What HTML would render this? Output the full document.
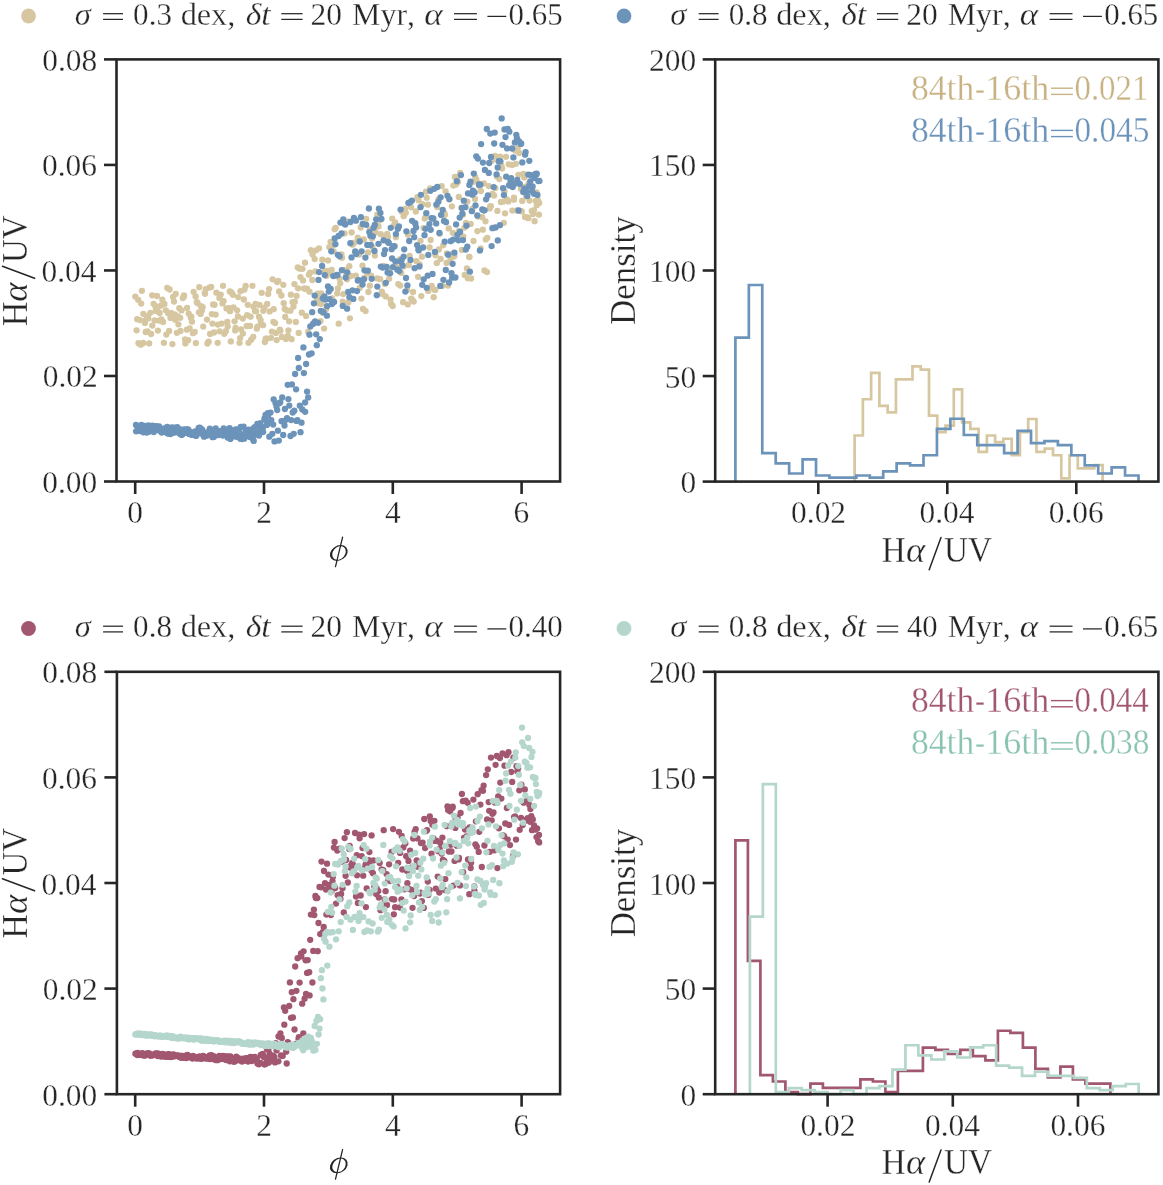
<!DOCTYPE html><html><head><meta charset="utf-8"><style>html,body{margin:0;padding:0;background:#fff;overflow:hidden}svg{display:block;will-change:transform}text{font-family:"Liberation Serif",serif;stroke:#fff;stroke-width:0.3px}</style></head><body>
<svg width="1163" height="1185" viewBox="0 0 1163 1185">
<rect width="1163" height="1185" fill="#fff"/>
<g fill="#d6c7a1"><circle cx="135.3" cy="296.6" r="3.15"/><circle cx="136.6" cy="330.3" r="3.15"/><circle cx="137.2" cy="319.2" r="3.15"/><circle cx="138.2" cy="299.8" r="3.15"/><circle cx="138.5" cy="343.2" r="3.15"/><circle cx="139.9" cy="320.1" r="3.15"/><circle cx="140.7" cy="344.7" r="3.15"/><circle cx="141.2" cy="303.6" r="3.15"/><circle cx="141.9" cy="290.8" r="3.15"/><circle cx="143.2" cy="343.0" r="3.15"/><circle cx="143.3" cy="313.8" r="3.15"/><circle cx="144.9" cy="322.9" r="3.15"/><circle cx="145.1" cy="320.6" r="3.15"/><circle cx="145.7" cy="332.0" r="3.15"/><circle cx="146.9" cy="316.3" r="3.15"/><circle cx="147.5" cy="331.5" r="3.15"/><circle cx="148.3" cy="318.4" r="3.15"/><circle cx="149.2" cy="343.4" r="3.15"/><circle cx="150.4" cy="312.8" r="3.15"/><circle cx="151.1" cy="334.0" r="3.15"/><circle cx="152.2" cy="295.3" r="3.15"/><circle cx="152.3" cy="325.6" r="3.15"/><circle cx="153.6" cy="303.8" r="3.15"/><circle cx="154.6" cy="320.4" r="3.15"/><circle cx="155.3" cy="306.1" r="3.15"/><circle cx="155.7" cy="310.9" r="3.15"/><circle cx="157.0" cy="296.0" r="3.15"/><circle cx="157.5" cy="310.7" r="3.15"/><circle cx="157.9" cy="330.6" r="3.15"/><circle cx="159.3" cy="320.7" r="3.15"/><circle cx="159.6" cy="313.0" r="3.15"/><circle cx="160.9" cy="305.7" r="3.15"/><circle cx="161.4" cy="319.3" r="3.15"/><circle cx="162.3" cy="299.7" r="3.15"/><circle cx="163.1" cy="321.9" r="3.15"/><circle cx="163.9" cy="342.8" r="3.15"/><circle cx="164.4" cy="304.0" r="3.15"/><circle cx="165.9" cy="310.3" r="3.15"/><circle cx="166.3" cy="334.6" r="3.15"/><circle cx="167.2" cy="287.8" r="3.15"/><circle cx="168.2" cy="313.3" r="3.15"/><circle cx="169.1" cy="331.0" r="3.15"/><circle cx="169.6" cy="289.5" r="3.15"/><circle cx="170.5" cy="317.9" r="3.15"/><circle cx="171.0" cy="312.8" r="3.15"/><circle cx="172.4" cy="344.1" r="3.15"/><circle cx="173.1" cy="297.0" r="3.15"/><circle cx="174.0" cy="301.6" r="3.15"/><circle cx="174.7" cy="314.4" r="3.15"/><circle cx="175.3" cy="319.7" r="3.15"/><circle cx="175.7" cy="294.0" r="3.15"/><circle cx="176.9" cy="332.8" r="3.15"/><circle cx="177.7" cy="316.3" r="3.15"/><circle cx="178.4" cy="324.3" r="3.15"/><circle cx="179.3" cy="308.2" r="3.15"/><circle cx="180.2" cy="317.8" r="3.15"/><circle cx="180.5" cy="331.0" r="3.15"/><circle cx="181.5" cy="310.4" r="3.15"/><circle cx="182.8" cy="298.0" r="3.15"/><circle cx="183.6" cy="296.9" r="3.15"/><circle cx="184.0" cy="295.4" r="3.15"/><circle cx="185.1" cy="339.4" r="3.15"/><circle cx="185.4" cy="343.4" r="3.15"/><circle cx="186.8" cy="329.7" r="3.15"/><circle cx="187.1" cy="307.9" r="3.15"/><circle cx="188.1" cy="340.2" r="3.15"/><circle cx="188.7" cy="313.6" r="3.15"/><circle cx="189.6" cy="328.3" r="3.15"/><circle cx="190.8" cy="317.7" r="3.15"/><circle cx="191.3" cy="316.6" r="3.15"/><circle cx="191.9" cy="321.7" r="3.15"/><circle cx="193.0" cy="333.2" r="3.15"/><circle cx="193.6" cy="291.8" r="3.15"/><circle cx="194.7" cy="331.9" r="3.15"/><circle cx="195.6" cy="296.5" r="3.15"/><circle cx="195.9" cy="343.1" r="3.15"/><circle cx="196.8" cy="302.2" r="3.15"/><circle cx="197.6" cy="303.0" r="3.15"/><circle cx="198.9" cy="312.3" r="3.15"/><circle cx="199.3" cy="287.2" r="3.15"/><circle cx="200.6" cy="313.9" r="3.15"/><circle cx="200.9" cy="306.2" r="3.15"/><circle cx="201.9" cy="310.4" r="3.15"/><circle cx="202.6" cy="307.2" r="3.15"/><circle cx="203.2" cy="326.6" r="3.15"/><circle cx="204.8" cy="292.9" r="3.15"/><circle cx="205.0" cy="293.8" r="3.15"/><circle cx="205.9" cy="289.1" r="3.15"/><circle cx="207.0" cy="319.6" r="3.15"/><circle cx="207.4" cy="343.5" r="3.15"/><circle cx="208.7" cy="341.7" r="3.15"/><circle cx="209.5" cy="287.6" r="3.15"/><circle cx="210.1" cy="333.9" r="3.15"/><circle cx="211.2" cy="286.9" r="3.15"/><circle cx="211.8" cy="314.1" r="3.15"/><circle cx="212.4" cy="323.6" r="3.15"/><circle cx="213.1" cy="304.4" r="3.15"/><circle cx="214.0" cy="332.5" r="3.15"/><circle cx="214.6" cy="304.8" r="3.15"/><circle cx="215.6" cy="314.6" r="3.15"/><circle cx="216.4" cy="292.7" r="3.15"/><circle cx="217.7" cy="342.8" r="3.15"/><circle cx="217.9" cy="324.6" r="3.15"/><circle cx="219.4" cy="297.9" r="3.15"/><circle cx="219.6" cy="331.3" r="3.15"/><circle cx="220.7" cy="294.6" r="3.15"/><circle cx="221.7" cy="323.6" r="3.15"/><circle cx="222.5" cy="303.4" r="3.15"/><circle cx="223.0" cy="285.8" r="3.15"/><circle cx="223.6" cy="301.1" r="3.15"/><circle cx="224.3" cy="333.8" r="3.15"/><circle cx="225.8" cy="331.2" r="3.15"/><circle cx="226.5" cy="308.4" r="3.15"/><circle cx="227.3" cy="322.0" r="3.15"/><circle cx="227.7" cy="326.6" r="3.15"/><circle cx="229.0" cy="308.1" r="3.15"/><circle cx="229.8" cy="291.4" r="3.15"/><circle cx="230.0" cy="311.2" r="3.15"/><circle cx="230.8" cy="341.4" r="3.15"/><circle cx="231.6" cy="292.6" r="3.15"/><circle cx="232.9" cy="294.8" r="3.15"/><circle cx="233.4" cy="307.3" r="3.15"/><circle cx="234.6" cy="321.3" r="3.15"/><circle cx="235.2" cy="330.4" r="3.15"/><circle cx="235.6" cy="327.9" r="3.15"/><circle cx="237.1" cy="310.3" r="3.15"/><circle cx="237.9" cy="316.5" r="3.15"/><circle cx="238.2" cy="297.1" r="3.15"/><circle cx="239.5" cy="342.8" r="3.15"/><circle cx="240.1" cy="338.1" r="3.15"/><circle cx="240.5" cy="291.2" r="3.15"/><circle cx="241.2" cy="329.4" r="3.15"/><circle cx="242.8" cy="318.6" r="3.15"/><circle cx="242.9" cy="333.6" r="3.15"/><circle cx="243.8" cy="299.5" r="3.15"/><circle cx="244.5" cy="289.6" r="3.15"/><circle cx="245.6" cy="286.0" r="3.15"/><circle cx="246.8" cy="326.0" r="3.15"/><circle cx="247.1" cy="315.2" r="3.15"/><circle cx="247.8" cy="304.8" r="3.15"/><circle cx="248.5" cy="342.8" r="3.15"/><circle cx="250.1" cy="325.9" r="3.15"/><circle cx="250.6" cy="316.7" r="3.15"/><circle cx="251.2" cy="339.7" r="3.15"/><circle cx="252.5" cy="285.8" r="3.15"/><circle cx="253.3" cy="336.8" r="3.15"/><circle cx="253.5" cy="306.7" r="3.15"/><circle cx="255.0" cy="311.1" r="3.15"/><circle cx="255.5" cy="304.0" r="3.15"/><circle cx="256.0" cy="311.2" r="3.15"/><circle cx="256.8" cy="328.7" r="3.15"/><circle cx="257.5" cy="326.6" r="3.15"/><circle cx="259.0" cy="316.7" r="3.15"/><circle cx="259.5" cy="305.0" r="3.15"/><circle cx="260.6" cy="320.1" r="3.15"/><circle cx="260.9" cy="323.8" r="3.15"/><circle cx="261.7" cy="292.8" r="3.15"/><circle cx="263.0" cy="325.2" r="3.15"/><circle cx="263.3" cy="310.8" r="3.15"/><circle cx="264.3" cy="307.6" r="3.15"/><circle cx="264.9" cy="342.0" r="3.15"/><circle cx="265.7" cy="338.7" r="3.15"/><circle cx="266.7" cy="338.7" r="3.15"/><circle cx="267.2" cy="304.0" r="3.15"/><circle cx="268.2" cy="293.9" r="3.15"/><circle cx="269.1" cy="289.1" r="3.15"/><circle cx="269.7" cy="311.4" r="3.15"/><circle cx="271.0" cy="337.8" r="3.15"/><circle cx="271.9" cy="331.6" r="3.15"/><circle cx="272.6" cy="279.3" r="3.15"/><circle cx="273.4" cy="321.8" r="3.15"/><circle cx="273.7" cy="309.2" r="3.15"/><circle cx="275.1" cy="323.1" r="3.15"/><circle cx="275.9" cy="332.9" r="3.15"/><circle cx="276.7" cy="340.1" r="3.15"/><circle cx="277.1" cy="282.0" r="3.15"/><circle cx="278.3" cy="281.0" r="3.15"/><circle cx="279.1" cy="291.4" r="3.15"/><circle cx="279.8" cy="329.6" r="3.15"/><circle cx="280.4" cy="330.8" r="3.15"/><circle cx="281.4" cy="295.5" r="3.15"/><circle cx="281.9" cy="336.9" r="3.15"/><circle cx="283.3" cy="284.8" r="3.15"/><circle cx="283.7" cy="303.2" r="3.15"/><circle cx="284.8" cy="308.9" r="3.15"/><circle cx="285.2" cy="316.9" r="3.15"/><circle cx="285.9" cy="339.0" r="3.15"/><circle cx="287.1" cy="310.6" r="3.15"/><circle cx="287.8" cy="335.9" r="3.15"/><circle cx="288.4" cy="330.3" r="3.15"/><circle cx="289.1" cy="321.3" r="3.15"/><circle cx="290.4" cy="310.7" r="3.15"/><circle cx="290.9" cy="294.7" r="3.15"/><circle cx="291.6" cy="339.2" r="3.15"/><circle cx="292.6" cy="302.2" r="3.15"/><circle cx="293.5" cy="306.6" r="3.15"/><circle cx="294.4" cy="284.1" r="3.15"/><circle cx="294.8" cy="301.7" r="3.15"/><circle cx="295.8" cy="321.9" r="3.15"/><circle cx="296.6" cy="295.9" r="3.15"/><circle cx="297.8" cy="267.4" r="3.15"/><circle cx="298.1" cy="288.3" r="3.15"/><circle cx="298.7" cy="332.9" r="3.15"/><circle cx="299.9" cy="268.7" r="3.15"/><circle cx="300.4" cy="277.1" r="3.15"/><circle cx="301.8" cy="312.7" r="3.15"/><circle cx="302.5" cy="268.8" r="3.15"/><circle cx="303.0" cy="280.4" r="3.15"/><circle cx="304.1" cy="288.4" r="3.15"/><circle cx="305.0" cy="262.7" r="3.15"/><circle cx="305.9" cy="289.1" r="3.15"/><circle cx="306.1" cy="315.9" r="3.15"/><circle cx="306.9" cy="288.6" r="3.15"/><circle cx="308.2" cy="332.0" r="3.15"/><circle cx="308.9" cy="274.7" r="3.15"/><circle cx="309.5" cy="291.7" r="3.15"/><circle cx="310.1" cy="272.7" r="3.15"/><circle cx="310.8" cy="250.2" r="3.15"/><circle cx="312.3" cy="280.0" r="3.15"/><circle cx="312.6" cy="254.5" r="3.15"/><circle cx="314.0" cy="322.7" r="3.15"/><circle cx="314.7" cy="259.1" r="3.15"/><circle cx="315.4" cy="271.4" r="3.15"/><circle cx="316.0" cy="250.3" r="3.15"/><circle cx="317.3" cy="298.8" r="3.15"/><circle cx="317.9" cy="293.6" r="3.15"/><circle cx="318.2" cy="303.3" r="3.15"/><circle cx="319.0" cy="248.3" r="3.15"/><circle cx="320.5" cy="321.1" r="3.15"/><circle cx="321.0" cy="293.4" r="3.15"/><circle cx="321.4" cy="303.8" r="3.15"/><circle cx="322.3" cy="259.7" r="3.15"/><circle cx="322.9" cy="312.9" r="3.15"/><circle cx="324.1" cy="328.6" r="3.15"/><circle cx="325.1" cy="270.9" r="3.15"/><circle cx="326.0" cy="309.3" r="3.15"/><circle cx="326.4" cy="275.9" r="3.15"/><circle cx="327.2" cy="270.9" r="3.15"/><circle cx="328.0" cy="260.4" r="3.15"/><circle cx="329.3" cy="247.1" r="3.15"/><circle cx="330.2" cy="273.0" r="3.15"/><circle cx="330.6" cy="241.8" r="3.15"/><circle cx="331.7" cy="269.9" r="3.15"/><circle cx="332.2" cy="298.3" r="3.15"/><circle cx="332.7" cy="245.7" r="3.15"/><circle cx="333.6" cy="251.4" r="3.15"/><circle cx="334.7" cy="229.2" r="3.15"/><circle cx="335.7" cy="227.9" r="3.15"/><circle cx="336.0" cy="275.0" r="3.15"/><circle cx="337.2" cy="293.4" r="3.15"/><circle cx="337.9" cy="288.5" r="3.15"/><circle cx="338.7" cy="323.7" r="3.15"/><circle cx="339.5" cy="278.6" r="3.15"/><circle cx="340.2" cy="283.3" r="3.15"/><circle cx="341.4" cy="254.5" r="3.15"/><circle cx="342.0" cy="257.8" r="3.15"/><circle cx="342.7" cy="301.6" r="3.15"/><circle cx="343.2" cy="294.1" r="3.15"/><circle cx="344.5" cy="233.4" r="3.15"/><circle cx="345.5" cy="269.9" r="3.15"/><circle cx="346.4" cy="274.4" r="3.15"/><circle cx="347.1" cy="279.3" r="3.15"/><circle cx="347.8" cy="221.5" r="3.15"/><circle cx="348.3" cy="302.5" r="3.15"/><circle cx="349.3" cy="266.2" r="3.15"/><circle cx="349.9" cy="318.3" r="3.15"/><circle cx="350.8" cy="276.0" r="3.15"/><circle cx="351.6" cy="232.5" r="3.15"/><circle cx="352.6" cy="244.7" r="3.15"/><circle cx="353.6" cy="242.8" r="3.15"/><circle cx="354.1" cy="242.9" r="3.15"/><circle cx="355.0" cy="252.1" r="3.15"/><circle cx="355.8" cy="275.7" r="3.15"/><circle cx="356.6" cy="252.9" r="3.15"/><circle cx="357.7" cy="237.7" r="3.15"/><circle cx="358.4" cy="238.9" r="3.15"/><circle cx="359.2" cy="254.6" r="3.15"/><circle cx="359.6" cy="288.0" r="3.15"/><circle cx="360.7" cy="227.5" r="3.15"/><circle cx="361.4" cy="298.6" r="3.15"/><circle cx="362.5" cy="265.6" r="3.15"/><circle cx="363.0" cy="308.9" r="3.15"/><circle cx="363.8" cy="239.5" r="3.15"/><circle cx="364.6" cy="278.0" r="3.15"/><circle cx="365.6" cy="311.1" r="3.15"/><circle cx="366.2" cy="219.0" r="3.15"/><circle cx="367.2" cy="272.9" r="3.15"/><circle cx="368.0" cy="252.5" r="3.15"/><circle cx="368.4" cy="292.0" r="3.15"/><circle cx="369.8" cy="285.7" r="3.15"/><circle cx="369.9" cy="229.6" r="3.15"/><circle cx="371.1" cy="275.6" r="3.15"/><circle cx="371.9" cy="238.6" r="3.15"/><circle cx="372.4" cy="246.8" r="3.15"/><circle cx="373.7" cy="230.4" r="3.15"/><circle cx="374.1" cy="250.8" r="3.15"/><circle cx="374.9" cy="255.6" r="3.15"/><circle cx="375.7" cy="232.4" r="3.15"/><circle cx="377.1" cy="278.4" r="3.15"/><circle cx="377.3" cy="214.6" r="3.15"/><circle cx="378.5" cy="226.4" r="3.15"/><circle cx="378.8" cy="220.7" r="3.15"/><circle cx="380.1" cy="279.2" r="3.15"/><circle cx="380.8" cy="234.2" r="3.15"/><circle cx="381.8" cy="291.7" r="3.15"/><circle cx="382.5" cy="294.1" r="3.15"/><circle cx="383.6" cy="265.8" r="3.15"/><circle cx="384.4" cy="236.8" r="3.15"/><circle cx="384.9" cy="283.9" r="3.15"/><circle cx="385.7" cy="296.4" r="3.15"/><circle cx="386.2" cy="237.6" r="3.15"/><circle cx="387.2" cy="233.8" r="3.15"/><circle cx="387.9" cy="237.0" r="3.15"/><circle cx="389.1" cy="278.8" r="3.15"/><circle cx="389.4" cy="269.5" r="3.15"/><circle cx="390.5" cy="299.6" r="3.15"/><circle cx="391.1" cy="304.1" r="3.15"/><circle cx="392.2" cy="218.6" r="3.15"/><circle cx="392.7" cy="306.0" r="3.15"/><circle cx="393.9" cy="225.5" r="3.15"/><circle cx="394.9" cy="245.8" r="3.15"/><circle cx="395.2" cy="222.5" r="3.15"/><circle cx="395.9" cy="237.2" r="3.15"/><circle cx="396.7" cy="267.2" r="3.15"/><circle cx="397.8" cy="269.1" r="3.15"/><circle cx="398.3" cy="284.1" r="3.15"/><circle cx="399.7" cy="259.5" r="3.15"/><circle cx="400.3" cy="285.6" r="3.15"/><circle cx="401.2" cy="272.9" r="3.15"/><circle cx="401.9" cy="211.7" r="3.15"/><circle cx="403.1" cy="302.2" r="3.15"/><circle cx="403.7" cy="216.2" r="3.15"/><circle cx="404.1" cy="266.3" r="3.15"/><circle cx="405.1" cy="209.0" r="3.15"/><circle cx="405.8" cy="212.8" r="3.15"/><circle cx="406.9" cy="290.0" r="3.15"/><circle cx="407.8" cy="304.4" r="3.15"/><circle cx="408.0" cy="234.7" r="3.15"/><circle cx="408.8" cy="265.0" r="3.15"/><circle cx="409.6" cy="255.8" r="3.15"/><circle cx="411.0" cy="207.3" r="3.15"/><circle cx="411.2" cy="298.6" r="3.15"/><circle cx="412.6" cy="300.2" r="3.15"/><circle cx="413.0" cy="292.0" r="3.15"/><circle cx="413.7" cy="301.6" r="3.15"/><circle cx="414.9" cy="223.0" r="3.15"/><circle cx="415.8" cy="211.5" r="3.15"/><circle cx="416.5" cy="261.2" r="3.15"/><circle cx="417.3" cy="197.1" r="3.15"/><circle cx="418.1" cy="276.8" r="3.15"/><circle cx="418.5" cy="200.3" r="3.15"/><circle cx="419.7" cy="264.5" r="3.15"/><circle cx="420.5" cy="240.8" r="3.15"/><circle cx="421.3" cy="296.1" r="3.15"/><circle cx="422.0" cy="256.7" r="3.15"/><circle cx="422.6" cy="204.2" r="3.15"/><circle cx="423.6" cy="228.1" r="3.15"/><circle cx="424.7" cy="218.6" r="3.15"/><circle cx="425.5" cy="217.2" r="3.15"/><circle cx="425.9" cy="191.7" r="3.15"/><circle cx="426.7" cy="197.8" r="3.15"/><circle cx="428.0" cy="204.7" r="3.15"/><circle cx="428.2" cy="290.9" r="3.15"/><circle cx="429.6" cy="247.5" r="3.15"/><circle cx="430.1" cy="188.5" r="3.15"/><circle cx="430.6" cy="240.0" r="3.15"/><circle cx="431.7" cy="285.8" r="3.15"/><circle cx="432.5" cy="219.1" r="3.15"/><circle cx="433.7" cy="297.2" r="3.15"/><circle cx="434.2" cy="289.6" r="3.15"/><circle cx="435.3" cy="289.9" r="3.15"/><circle cx="435.5" cy="255.3" r="3.15"/><circle cx="436.8" cy="263.1" r="3.15"/><circle cx="437.2" cy="207.1" r="3.15"/><circle cx="438.5" cy="199.4" r="3.15"/><circle cx="438.9" cy="249.5" r="3.15"/><circle cx="439.7" cy="233.8" r="3.15"/><circle cx="440.6" cy="259.0" r="3.15"/><circle cx="441.7" cy="186.1" r="3.15"/><circle cx="442.4" cy="286.0" r="3.15"/><circle cx="443.2" cy="245.3" r="3.15"/><circle cx="444.3" cy="212.9" r="3.15"/><circle cx="445.0" cy="214.8" r="3.15"/><circle cx="445.6" cy="191.3" r="3.15"/><circle cx="446.6" cy="262.9" r="3.15"/><circle cx="446.9" cy="253.4" r="3.15"/><circle cx="448.0" cy="285.6" r="3.15"/><circle cx="448.7" cy="228.4" r="3.15"/><circle cx="449.2" cy="199.4" r="3.15"/><circle cx="450.5" cy="259.1" r="3.15"/><circle cx="451.0" cy="254.3" r="3.15"/><circle cx="451.9" cy="206.3" r="3.15"/><circle cx="452.8" cy="232.8" r="3.15"/><circle cx="453.4" cy="185.6" r="3.15"/><circle cx="454.3" cy="256.3" r="3.15"/><circle cx="454.9" cy="177.0" r="3.15"/><circle cx="456.1" cy="184.5" r="3.15"/><circle cx="457.2" cy="177.0" r="3.15"/><circle cx="457.9" cy="182.1" r="3.15"/><circle cx="458.8" cy="196.9" r="3.15"/><circle cx="459.0" cy="230.9" r="3.15"/><circle cx="460.2" cy="172.8" r="3.15"/><circle cx="461.2" cy="208.0" r="3.15"/><circle cx="461.9" cy="249.9" r="3.15"/><circle cx="462.9" cy="214.7" r="3.15"/><circle cx="463.3" cy="236.7" r="3.15"/><circle cx="464.5" cy="227.6" r="3.15"/><circle cx="464.7" cy="274.9" r="3.15"/><circle cx="465.9" cy="222.8" r="3.15"/><circle cx="466.9" cy="268.5" r="3.15"/><circle cx="467.3" cy="201.6" r="3.15"/><circle cx="467.8" cy="278.2" r="3.15"/><circle cx="469.1" cy="256.8" r="3.15"/><circle cx="469.5" cy="257.0" r="3.15"/><circle cx="470.7" cy="223.9" r="3.15"/><circle cx="471.1" cy="278.5" r="3.15"/><circle cx="472.5" cy="208.6" r="3.15"/><circle cx="472.8" cy="182.1" r="3.15"/><circle cx="473.5" cy="241.0" r="3.15"/><circle cx="475.0" cy="199.0" r="3.15"/><circle cx="475.3" cy="177.2" r="3.15"/><circle cx="476.4" cy="179.7" r="3.15"/><circle cx="477.4" cy="231.1" r="3.15"/><circle cx="478.1" cy="216.6" r="3.15"/><circle cx="479.1" cy="186.0" r="3.15"/><circle cx="479.7" cy="183.8" r="3.15"/><circle cx="480.7" cy="248.4" r="3.15"/><circle cx="480.9" cy="191.0" r="3.15"/><circle cx="482.2" cy="217.2" r="3.15"/><circle cx="482.8" cy="229.7" r="3.15"/><circle cx="483.9" cy="183.4" r="3.15"/><circle cx="484.5" cy="270.4" r="3.15"/><circle cx="485.5" cy="221.3" r="3.15"/><circle cx="485.8" cy="239.4" r="3.15"/><circle cx="487.0" cy="272.1" r="3.15"/><circle cx="487.3" cy="237.8" r="3.15"/><circle cx="488.8" cy="186.1" r="3.15"/><circle cx="489.6" cy="208.4" r="3.15"/><circle cx="490.1" cy="206.5" r="3.15"/><circle cx="490.9" cy="206.1" r="3.15"/><circle cx="491.9" cy="160.4" r="3.15"/><circle cx="492.4" cy="193.9" r="3.15"/><circle cx="493.1" cy="227.6" r="3.15"/><circle cx="494.1" cy="195.5" r="3.15"/><circle cx="495.0" cy="156.0" r="3.15"/><circle cx="495.4" cy="188.1" r="3.15"/><circle cx="496.9" cy="176.4" r="3.15"/><circle cx="497.4" cy="210.9" r="3.15"/><circle cx="498.1" cy="157.3" r="3.15"/><circle cx="499.3" cy="179.0" r="3.15"/><circle cx="500.1" cy="156.7" r="3.15"/><circle cx="500.9" cy="202.0" r="3.15"/><circle cx="501.4" cy="165.7" r="3.15"/><circle cx="502.1" cy="168.5" r="3.15"/><circle cx="503.0" cy="201.7" r="3.15"/><circle cx="503.8" cy="222.8" r="3.15"/><circle cx="504.5" cy="191.5" r="3.15"/><circle cx="505.0" cy="213.3" r="3.15"/><circle cx="506.0" cy="156.8" r="3.15"/><circle cx="507.1" cy="199.5" r="3.15"/><circle cx="508.3" cy="201.4" r="3.15"/><circle cx="508.7" cy="164.3" r="3.15"/><circle cx="509.6" cy="185.8" r="3.15"/><circle cx="510.5" cy="181.4" r="3.15"/><circle cx="511.3" cy="180.6" r="3.15"/><circle cx="512.3" cy="165.0" r="3.15"/><circle cx="512.4" cy="210.6" r="3.15"/><circle cx="513.9" cy="199.7" r="3.15"/><circle cx="514.0" cy="197.6" r="3.15"/><circle cx="515.1" cy="150.6" r="3.15"/><circle cx="515.9" cy="163.8" r="3.15"/><circle cx="517.0" cy="210.5" r="3.15"/><circle cx="517.7" cy="148.2" r="3.15"/><circle cx="518.4" cy="174.8" r="3.15"/><circle cx="519.1" cy="153.0" r="3.15"/><circle cx="520.4" cy="210.8" r="3.15"/><circle cx="520.9" cy="188.7" r="3.15"/><circle cx="521.8" cy="211.4" r="3.15"/><circle cx="522.2" cy="200.9" r="3.15"/><circle cx="523.2" cy="173.8" r="3.15"/><circle cx="524.3" cy="177.4" r="3.15"/><circle cx="525.0" cy="217.0" r="3.15"/><circle cx="525.6" cy="186.7" r="3.15"/><circle cx="526.3" cy="196.5" r="3.15"/><circle cx="527.6" cy="217.4" r="3.15"/><circle cx="528.4" cy="218.2" r="3.15"/><circle cx="528.8" cy="183.4" r="3.15"/><circle cx="529.5" cy="200.6" r="3.15"/><circle cx="530.5" cy="186.4" r="3.15"/><circle cx="531.7" cy="211.1" r="3.15"/><circle cx="532.1" cy="188.5" r="3.15"/><circle cx="533.0" cy="214.1" r="3.15"/><circle cx="534.0" cy="210.1" r="3.15"/><circle cx="534.6" cy="221.2" r="3.15"/><circle cx="535.8" cy="200.9" r="3.15"/><circle cx="536.5" cy="192.3" r="3.15"/><circle cx="536.8" cy="205.2" r="3.15"/><circle cx="537.8" cy="199.9" r="3.15"/><circle cx="538.9" cy="214.7" r="3.15"/><circle cx="539.2" cy="202.9" r="3.15"/></g>
<g fill="#6c93ba"><circle cx="136.0" cy="424.9" r="3.15"/><circle cx="136.1" cy="431.3" r="3.15"/><circle cx="137.5" cy="426.6" r="3.15"/><circle cx="138.2" cy="429.8" r="3.15"/><circle cx="138.9" cy="427.7" r="3.15"/><circle cx="139.7" cy="431.0" r="3.15"/><circle cx="140.4" cy="429.3" r="3.15"/><circle cx="141.4" cy="424.9" r="3.15"/><circle cx="142.4" cy="428.3" r="3.15"/><circle cx="142.8" cy="430.4" r="3.15"/><circle cx="143.3" cy="432.3" r="3.15"/><circle cx="144.5" cy="430.2" r="3.15"/><circle cx="145.2" cy="425.9" r="3.15"/><circle cx="146.1" cy="428.4" r="3.15"/><circle cx="146.7" cy="432.6" r="3.15"/><circle cx="147.6" cy="431.8" r="3.15"/><circle cx="148.6" cy="425.3" r="3.15"/><circle cx="149.5" cy="431.6" r="3.15"/><circle cx="150.5" cy="426.9" r="3.15"/><circle cx="151.2" cy="426.1" r="3.15"/><circle cx="152.0" cy="427.1" r="3.15"/><circle cx="152.5" cy="425.6" r="3.15"/><circle cx="153.8" cy="432.0" r="3.15"/><circle cx="154.4" cy="427.8" r="3.15"/><circle cx="155.0" cy="429.2" r="3.15"/><circle cx="155.8" cy="426.2" r="3.15"/><circle cx="156.6" cy="427.0" r="3.15"/><circle cx="157.3" cy="426.6" r="3.15"/><circle cx="158.6" cy="430.0" r="3.15"/><circle cx="159.1" cy="426.4" r="3.15"/><circle cx="160.1" cy="429.9" r="3.15"/><circle cx="160.5" cy="431.2" r="3.15"/><circle cx="161.7" cy="432.5" r="3.15"/><circle cx="162.6" cy="431.8" r="3.15"/><circle cx="163.5" cy="431.5" r="3.15"/><circle cx="164.3" cy="428.4" r="3.15"/><circle cx="164.7" cy="430.0" r="3.15"/><circle cx="165.7" cy="429.5" r="3.15"/><circle cx="166.2" cy="432.5" r="3.15"/><circle cx="167.2" cy="426.8" r="3.15"/><circle cx="168.1" cy="433.7" r="3.15"/><circle cx="169.0" cy="428.6" r="3.15"/><circle cx="169.9" cy="432.9" r="3.15"/><circle cx="170.6" cy="434.0" r="3.15"/><circle cx="171.3" cy="432.3" r="3.15"/><circle cx="171.8" cy="427.5" r="3.15"/><circle cx="172.5" cy="430.4" r="3.15"/><circle cx="173.9" cy="432.7" r="3.15"/><circle cx="174.2" cy="427.6" r="3.15"/><circle cx="175.2" cy="429.0" r="3.15"/><circle cx="175.7" cy="431.9" r="3.15"/><circle cx="176.6" cy="429.4" r="3.15"/><circle cx="177.3" cy="427.2" r="3.15"/><circle cx="178.1" cy="429.1" r="3.15"/><circle cx="178.9" cy="433.0" r="3.15"/><circle cx="180.4" cy="433.9" r="3.15"/><circle cx="180.7" cy="429.5" r="3.15"/><circle cx="181.6" cy="434.9" r="3.15"/><circle cx="182.9" cy="434.1" r="3.15"/><circle cx="183.0" cy="432.5" r="3.15"/><circle cx="184.3" cy="429.3" r="3.15"/><circle cx="184.7" cy="432.7" r="3.15"/><circle cx="185.4" cy="431.8" r="3.15"/><circle cx="186.8" cy="429.5" r="3.15"/><circle cx="187.7" cy="429.4" r="3.15"/><circle cx="188.5" cy="429.9" r="3.15"/><circle cx="189.0" cy="433.9" r="3.15"/><circle cx="190.0" cy="433.2" r="3.15"/><circle cx="190.3" cy="432.2" r="3.15"/><circle cx="191.7" cy="434.9" r="3.15"/><circle cx="192.3" cy="432.8" r="3.15"/><circle cx="193.1" cy="434.9" r="3.15"/><circle cx="194.2" cy="434.0" r="3.15"/><circle cx="194.8" cy="432.7" r="3.15"/><circle cx="195.1" cy="431.5" r="3.15"/><circle cx="196.0" cy="435.9" r="3.15"/><circle cx="196.7" cy="435.0" r="3.15"/><circle cx="197.6" cy="430.9" r="3.15"/><circle cx="198.7" cy="427.8" r="3.15"/><circle cx="199.9" cy="427.7" r="3.15"/><circle cx="200.1" cy="432.7" r="3.15"/><circle cx="201.0" cy="431.4" r="3.15"/><circle cx="202.1" cy="429.5" r="3.15"/><circle cx="202.9" cy="434.6" r="3.15"/><circle cx="203.5" cy="432.1" r="3.15"/><circle cx="204.0" cy="436.7" r="3.15"/><circle cx="205.1" cy="436.1" r="3.15"/><circle cx="206.2" cy="434.9" r="3.15"/><circle cx="206.5" cy="435.5" r="3.15"/><circle cx="207.4" cy="435.2" r="3.15"/><circle cx="208.5" cy="432.9" r="3.15"/><circle cx="209.1" cy="431.2" r="3.15"/><circle cx="209.8" cy="428.6" r="3.15"/><circle cx="211.2" cy="430.4" r="3.15"/><circle cx="211.6" cy="432.5" r="3.15"/><circle cx="212.5" cy="437.2" r="3.15"/><circle cx="213.2" cy="432.5" r="3.15"/><circle cx="213.8" cy="436.9" r="3.15"/><circle cx="215.2" cy="434.2" r="3.15"/><circle cx="215.7" cy="428.5" r="3.15"/><circle cx="216.6" cy="435.0" r="3.15"/><circle cx="217.7" cy="434.2" r="3.15"/><circle cx="217.8" cy="431.0" r="3.15"/><circle cx="218.6" cy="435.0" r="3.15"/><circle cx="220.0" cy="431.2" r="3.15"/><circle cx="220.2" cy="433.5" r="3.15"/><circle cx="221.3" cy="433.2" r="3.15"/><circle cx="222.0" cy="432.1" r="3.15"/><circle cx="222.7" cy="435.5" r="3.15"/><circle cx="223.7" cy="428.4" r="3.15"/><circle cx="224.3" cy="430.4" r="3.15"/><circle cx="225.2" cy="432.4" r="3.15"/><circle cx="226.2" cy="433.7" r="3.15"/><circle cx="227.3" cy="434.5" r="3.15"/><circle cx="227.6" cy="437.6" r="3.15"/><circle cx="228.3" cy="429.4" r="3.15"/><circle cx="229.6" cy="428.1" r="3.15"/><circle cx="230.4" cy="438.9" r="3.15"/><circle cx="231.2" cy="430.3" r="3.15"/><circle cx="232.1" cy="433.5" r="3.15"/><circle cx="232.6" cy="434.0" r="3.15"/><circle cx="233.8" cy="436.3" r="3.15"/><circle cx="234.4" cy="433.8" r="3.15"/><circle cx="235.5" cy="429.7" r="3.15"/><circle cx="236.3" cy="429.3" r="3.15"/><circle cx="236.6" cy="436.8" r="3.15"/><circle cx="237.6" cy="436.5" r="3.15"/><circle cx="238.3" cy="431.2" r="3.15"/><circle cx="239.5" cy="432.4" r="3.15"/><circle cx="240.3" cy="438.8" r="3.15"/><circle cx="240.7" cy="426.9" r="3.15"/><circle cx="241.3" cy="434.6" r="3.15"/><circle cx="242.1" cy="439.1" r="3.15"/><circle cx="243.6" cy="426.7" r="3.15"/><circle cx="244.2" cy="438.7" r="3.15"/><circle cx="244.7" cy="437.2" r="3.15"/><circle cx="245.8" cy="430.9" r="3.15"/><circle cx="246.4" cy="433.1" r="3.15"/><circle cx="247.0" cy="432.9" r="3.15"/><circle cx="248.5" cy="429.7" r="3.15"/><circle cx="248.6" cy="433.2" r="3.15"/><circle cx="249.9" cy="437.1" r="3.15"/><circle cx="250.8" cy="434.1" r="3.15"/><circle cx="251.5" cy="435.0" r="3.15"/><circle cx="252.5" cy="429.1" r="3.15"/><circle cx="253.0" cy="439.0" r="3.15"/><circle cx="253.7" cy="440.9" r="3.15"/><circle cx="254.6" cy="427.2" r="3.15"/><circle cx="255.1" cy="433.1" r="3.15"/><circle cx="256.2" cy="434.6" r="3.15"/><circle cx="257.2" cy="423.9" r="3.15"/><circle cx="258.0" cy="432.9" r="3.15"/><circle cx="259.0" cy="435.6" r="3.15"/><circle cx="259.6" cy="428.3" r="3.15"/><circle cx="260.4" cy="423.1" r="3.15"/><circle cx="260.8" cy="428.7" r="3.15"/><circle cx="261.8" cy="427.1" r="3.15"/><circle cx="263.0" cy="427.4" r="3.15"/><circle cx="263.1" cy="432.0" r="3.15"/><circle cx="264.4" cy="418.7" r="3.15"/><circle cx="265.2" cy="419.8" r="3.15"/><circle cx="265.5" cy="414.9" r="3.15"/><circle cx="266.9" cy="424.9" r="3.15"/><circle cx="267.8" cy="413.2" r="3.15"/><circle cx="268.0" cy="415.7" r="3.15"/><circle cx="269.3" cy="436.7" r="3.15"/><circle cx="270.1" cy="422.4" r="3.15"/><circle cx="270.5" cy="412.6" r="3.15"/><circle cx="271.3" cy="420.1" r="3.15"/><circle cx="272.3" cy="433.8" r="3.15"/><circle cx="273.2" cy="424.6" r="3.15"/><circle cx="273.7" cy="399.4" r="3.15"/><circle cx="274.5" cy="441.4" r="3.15"/><circle cx="275.6" cy="403.3" r="3.15"/><circle cx="276.5" cy="406.5" r="3.15"/><circle cx="277.2" cy="410.1" r="3.15"/><circle cx="277.9" cy="430.7" r="3.15"/><circle cx="278.8" cy="440.6" r="3.15"/><circle cx="279.3" cy="403.2" r="3.15"/><circle cx="280.2" cy="402.3" r="3.15"/><circle cx="281.5" cy="421.2" r="3.15"/><circle cx="282.2" cy="397.5" r="3.15"/><circle cx="283.2" cy="435.0" r="3.15"/><circle cx="283.4" cy="421.1" r="3.15"/><circle cx="284.5" cy="425.5" r="3.15"/><circle cx="284.9" cy="409.0" r="3.15"/><circle cx="286.5" cy="419.6" r="3.15"/><circle cx="287.0" cy="418.2" r="3.15"/><circle cx="287.7" cy="384.8" r="3.15"/><circle cx="288.4" cy="399.1" r="3.15"/><circle cx="289.3" cy="405.6" r="3.15"/><circle cx="290.5" cy="436.0" r="3.15"/><circle cx="291.2" cy="420.1" r="3.15"/><circle cx="291.9" cy="384.4" r="3.15"/><circle cx="292.7" cy="412.5" r="3.15"/><circle cx="293.7" cy="433.8" r="3.15"/><circle cx="294.3" cy="410.7" r="3.15"/><circle cx="295.1" cy="374.0" r="3.15"/><circle cx="296.1" cy="389.3" r="3.15"/><circle cx="296.5" cy="420.9" r="3.15"/><circle cx="297.4" cy="420.1" r="3.15"/><circle cx="298.1" cy="358.0" r="3.15"/><circle cx="298.8" cy="368.0" r="3.15"/><circle cx="299.8" cy="405.7" r="3.15"/><circle cx="300.5" cy="432.2" r="3.15"/><circle cx="301.5" cy="422.7" r="3.15"/><circle cx="302.3" cy="409.5" r="3.15"/><circle cx="303.4" cy="347.4" r="3.15"/><circle cx="303.9" cy="373.1" r="3.15"/><circle cx="305.1" cy="402.5" r="3.15"/><circle cx="305.2" cy="411.8" r="3.15"/><circle cx="306.1" cy="364.0" r="3.15"/><circle cx="307.1" cy="391.6" r="3.15"/><circle cx="308.2" cy="397.4" r="3.15"/><circle cx="309.0" cy="354.5" r="3.15"/><circle cx="309.5" cy="334.7" r="3.15"/><circle cx="310.3" cy="326.4" r="3.15"/><circle cx="311.6" cy="353.3" r="3.15"/><circle cx="312.2" cy="312.2" r="3.15"/><circle cx="313.0" cy="323.9" r="3.15"/><circle cx="313.9" cy="303.3" r="3.15"/><circle cx="314.7" cy="295.6" r="3.15"/><circle cx="315.1" cy="321.5" r="3.15"/><circle cx="316.2" cy="334.3" r="3.15"/><circle cx="316.8" cy="345.2" r="3.15"/><circle cx="318.1" cy="322.8" r="3.15"/><circle cx="318.5" cy="279.9" r="3.15"/><circle cx="319.1" cy="272.1" r="3.15"/><circle cx="319.8" cy="339.1" r="3.15"/><circle cx="320.8" cy="311.0" r="3.15"/><circle cx="322.1" cy="265.9" r="3.15"/><circle cx="322.8" cy="298.4" r="3.15"/><circle cx="323.4" cy="312.2" r="3.15"/><circle cx="324.4" cy="296.5" r="3.15"/><circle cx="324.8" cy="275.1" r="3.15"/><circle cx="325.5" cy="299.5" r="3.15"/><circle cx="326.9" cy="315.7" r="3.15"/><circle cx="327.1" cy="306.2" r="3.15"/><circle cx="328.0" cy="286.5" r="3.15"/><circle cx="328.8" cy="291.6" r="3.15"/><circle cx="329.6" cy="299.1" r="3.15"/><circle cx="330.7" cy="288.9" r="3.15"/><circle cx="331.3" cy="251.3" r="3.15"/><circle cx="331.9" cy="304.1" r="3.15"/><circle cx="333.3" cy="276.1" r="3.15"/><circle cx="334.1" cy="301.9" r="3.15"/><circle cx="334.7" cy="238.5" r="3.15"/><circle cx="335.4" cy="244.2" r="3.15"/><circle cx="336.4" cy="275.4" r="3.15"/><circle cx="337.5" cy="274.9" r="3.15"/><circle cx="337.9" cy="254.8" r="3.15"/><circle cx="338.6" cy="236.0" r="3.15"/><circle cx="339.6" cy="256.3" r="3.15"/><circle cx="340.4" cy="222.6" r="3.15"/><circle cx="341.5" cy="233.5" r="3.15"/><circle cx="341.9" cy="270.2" r="3.15"/><circle cx="342.8" cy="305.9" r="3.15"/><circle cx="343.3" cy="219.5" r="3.15"/><circle cx="344.1" cy="223.6" r="3.15"/><circle cx="345.3" cy="224.5" r="3.15"/><circle cx="345.7" cy="277.6" r="3.15"/><circle cx="347.1" cy="308.7" r="3.15"/><circle cx="347.3" cy="272.3" r="3.15"/><circle cx="348.2" cy="291.9" r="3.15"/><circle cx="349.4" cy="297.2" r="3.15"/><circle cx="350.4" cy="243.2" r="3.15"/><circle cx="350.5" cy="222.0" r="3.15"/><circle cx="351.5" cy="257.4" r="3.15"/><circle cx="352.5" cy="290.3" r="3.15"/><circle cx="353.3" cy="298.9" r="3.15"/><circle cx="353.9" cy="217.8" r="3.15"/><circle cx="355.2" cy="251.5" r="3.15"/><circle cx="355.9" cy="220.7" r="3.15"/><circle cx="356.2" cy="254.0" r="3.15"/><circle cx="357.0" cy="291.1" r="3.15"/><circle cx="357.8" cy="280.6" r="3.15"/><circle cx="358.6" cy="280.1" r="3.15"/><circle cx="359.7" cy="241.5" r="3.15"/><circle cx="360.9" cy="217.2" r="3.15"/><circle cx="361.6" cy="251.3" r="3.15"/><circle cx="362.5" cy="284.5" r="3.15"/><circle cx="362.7" cy="224.0" r="3.15"/><circle cx="363.9" cy="279.2" r="3.15"/><circle cx="364.5" cy="270.3" r="3.15"/><circle cx="365.4" cy="257.6" r="3.15"/><circle cx="366.2" cy="224.8" r="3.15"/><circle cx="367.3" cy="244.9" r="3.15"/><circle cx="367.8" cy="270.7" r="3.15"/><circle cx="368.9" cy="208.5" r="3.15"/><circle cx="369.3" cy="232.1" r="3.15"/><circle cx="370.4" cy="235.7" r="3.15"/><circle cx="370.7" cy="245.0" r="3.15"/><circle cx="371.7" cy="278.8" r="3.15"/><circle cx="372.8" cy="236.3" r="3.15"/><circle cx="373.6" cy="227.7" r="3.15"/><circle cx="374.5" cy="251.0" r="3.15"/><circle cx="374.8" cy="224.9" r="3.15"/><circle cx="376.2" cy="219.3" r="3.15"/><circle cx="376.8" cy="295.2" r="3.15"/><circle cx="377.3" cy="286.6" r="3.15"/><circle cx="378.5" cy="243.8" r="3.15"/><circle cx="378.9" cy="208.7" r="3.15"/><circle cx="380.4" cy="213.0" r="3.15"/><circle cx="380.8" cy="266.6" r="3.15"/><circle cx="381.4" cy="219.0" r="3.15"/><circle cx="382.6" cy="267.6" r="3.15"/><circle cx="383.6" cy="240.3" r="3.15"/><circle cx="384.0" cy="254.1" r="3.15"/><circle cx="385.0" cy="250.1" r="3.15"/><circle cx="385.8" cy="282.8" r="3.15"/><circle cx="386.6" cy="267.0" r="3.15"/><circle cx="387.6" cy="272.5" r="3.15"/><circle cx="388.0" cy="242.0" r="3.15"/><circle cx="388.8" cy="242.9" r="3.15"/><circle cx="390.1" cy="273.3" r="3.15"/><circle cx="390.7" cy="227.8" r="3.15"/><circle cx="391.6" cy="249.2" r="3.15"/><circle cx="392.1" cy="258.5" r="3.15"/><circle cx="392.9" cy="267.1" r="3.15"/><circle cx="393.5" cy="246.1" r="3.15"/><circle cx="394.3" cy="246.6" r="3.15"/><circle cx="395.4" cy="261.4" r="3.15"/><circle cx="395.9" cy="234.1" r="3.15"/><circle cx="397.3" cy="269.7" r="3.15"/><circle cx="397.9" cy="228.8" r="3.15"/><circle cx="398.9" cy="226.5" r="3.15"/><circle cx="399.3" cy="271.0" r="3.15"/><circle cx="400.5" cy="261.5" r="3.15"/><circle cx="400.6" cy="209.6" r="3.15"/><circle cx="401.6" cy="260.0" r="3.15"/><circle cx="402.5" cy="265.5" r="3.15"/><circle cx="403.6" cy="256.7" r="3.15"/><circle cx="404.2" cy="249.3" r="3.15"/><circle cx="405.4" cy="291.6" r="3.15"/><circle cx="406.0" cy="278.0" r="3.15"/><circle cx="406.4" cy="231.3" r="3.15"/><circle cx="407.4" cy="285.4" r="3.15"/><circle cx="408.4" cy="203.0" r="3.15"/><circle cx="409.2" cy="241.0" r="3.15"/><circle cx="410.2" cy="202.2" r="3.15"/><circle cx="410.5" cy="259.9" r="3.15"/><circle cx="411.9" cy="200.6" r="3.15"/><circle cx="412.1" cy="220.8" r="3.15"/><circle cx="413.5" cy="231.0" r="3.15"/><circle cx="414.2" cy="237.2" r="3.15"/><circle cx="414.6" cy="268.2" r="3.15"/><circle cx="415.3" cy="223.4" r="3.15"/><circle cx="416.1" cy="227.4" r="3.15"/><circle cx="417.1" cy="245.1" r="3.15"/><circle cx="418.4" cy="249.3" r="3.15"/><circle cx="418.8" cy="250.4" r="3.15"/><circle cx="419.4" cy="266.4" r="3.15"/><circle cx="420.5" cy="207.2" r="3.15"/><circle cx="420.9" cy="194.8" r="3.15"/><circle cx="422.2" cy="284.8" r="3.15"/><circle cx="423.1" cy="247.5" r="3.15"/><circle cx="423.7" cy="279.3" r="3.15"/><circle cx="424.5" cy="235.2" r="3.15"/><circle cx="425.5" cy="228.8" r="3.15"/><circle cx="426.3" cy="213.2" r="3.15"/><circle cx="426.7" cy="287.8" r="3.15"/><circle cx="427.7" cy="275.7" r="3.15"/><circle cx="428.3" cy="254.9" r="3.15"/><circle cx="429.4" cy="224.2" r="3.15"/><circle cx="430.3" cy="190.8" r="3.15"/><circle cx="430.7" cy="229.8" r="3.15"/><circle cx="431.5" cy="218.1" r="3.15"/><circle cx="432.5" cy="273.9" r="3.15"/><circle cx="433.3" cy="218.5" r="3.15"/><circle cx="434.2" cy="188.8" r="3.15"/><circle cx="434.9" cy="251.9" r="3.15"/><circle cx="436.2" cy="223.4" r="3.15"/><circle cx="436.3" cy="204.6" r="3.15"/><circle cx="437.3" cy="187.0" r="3.15"/><circle cx="438.4" cy="201.7" r="3.15"/><circle cx="439.4" cy="232.9" r="3.15"/><circle cx="440.3" cy="285.9" r="3.15"/><circle cx="440.6" cy="197.3" r="3.15"/><circle cx="441.1" cy="214.9" r="3.15"/><circle cx="442.7" cy="209.8" r="3.15"/><circle cx="443.4" cy="279.8" r="3.15"/><circle cx="444.0" cy="220.9" r="3.15"/><circle cx="444.7" cy="241.7" r="3.15"/><circle cx="445.8" cy="270.0" r="3.15"/><circle cx="446.0" cy="222.2" r="3.15"/><circle cx="447.5" cy="195.8" r="3.15"/><circle cx="448.1" cy="254.7" r="3.15"/><circle cx="449.1" cy="282.5" r="3.15"/><circle cx="449.4" cy="199.1" r="3.15"/><circle cx="450.7" cy="241.2" r="3.15"/><circle cx="451.5" cy="273.2" r="3.15"/><circle cx="452.1" cy="277.7" r="3.15"/><circle cx="452.6" cy="263.8" r="3.15"/><circle cx="453.2" cy="239.6" r="3.15"/><circle cx="454.4" cy="252.7" r="3.15"/><circle cx="455.4" cy="277.5" r="3.15"/><circle cx="456.1" cy="224.4" r="3.15"/><circle cx="456.8" cy="181.2" r="3.15"/><circle cx="457.4" cy="234.9" r="3.15"/><circle cx="458.5" cy="240.3" r="3.15"/><circle cx="459.7" cy="217.6" r="3.15"/><circle cx="460.1" cy="231.9" r="3.15"/><circle cx="460.9" cy="175.1" r="3.15"/><circle cx="462.0" cy="208.0" r="3.15"/><circle cx="462.3" cy="213.7" r="3.15"/><circle cx="463.0" cy="240.1" r="3.15"/><circle cx="463.8" cy="200.7" r="3.15"/><circle cx="465.4" cy="207.2" r="3.15"/><circle cx="465.8" cy="249.6" r="3.15"/><circle cx="466.5" cy="225.7" r="3.15"/><circle cx="467.3" cy="246.7" r="3.15"/><circle cx="468.0" cy="193.4" r="3.15"/><circle cx="469.4" cy="184.9" r="3.15"/><circle cx="469.9" cy="271.7" r="3.15"/><circle cx="470.5" cy="181.6" r="3.15"/><circle cx="471.8" cy="211.2" r="3.15"/><circle cx="472.3" cy="194.7" r="3.15"/><circle cx="472.9" cy="190.7" r="3.15"/><circle cx="473.8" cy="173.6" r="3.15"/><circle cx="474.6" cy="192.4" r="3.15"/><circle cx="475.5" cy="205.4" r="3.15"/><circle cx="476.3" cy="156.3" r="3.15"/><circle cx="477.3" cy="215.5" r="3.15"/><circle cx="477.9" cy="158.6" r="3.15"/><circle cx="478.9" cy="184.5" r="3.15"/><circle cx="479.9" cy="250.5" r="3.15"/><circle cx="480.4" cy="184.7" r="3.15"/><circle cx="481.1" cy="144.1" r="3.15"/><circle cx="482.3" cy="209.4" r="3.15"/><circle cx="482.9" cy="162.6" r="3.15"/><circle cx="483.7" cy="210.3" r="3.15"/><circle cx="484.6" cy="210.3" r="3.15"/><circle cx="484.9" cy="169.9" r="3.15"/><circle cx="486.1" cy="199.3" r="3.15"/><circle cx="486.8" cy="129.0" r="3.15"/><circle cx="487.9" cy="195.4" r="3.15"/><circle cx="488.8" cy="172.9" r="3.15"/><circle cx="489.2" cy="163.0" r="3.15"/><circle cx="490.3" cy="133.6" r="3.15"/><circle cx="491.0" cy="156.9" r="3.15"/><circle cx="491.6" cy="246.1" r="3.15"/><circle cx="492.4" cy="228.2" r="3.15"/><circle cx="493.7" cy="187.1" r="3.15"/><circle cx="494.2" cy="143.5" r="3.15"/><circle cx="494.7" cy="132.6" r="3.15"/><circle cx="495.6" cy="227.5" r="3.15"/><circle cx="496.6" cy="174.4" r="3.15"/><circle cx="497.7" cy="167.5" r="3.15"/><circle cx="497.8" cy="240.4" r="3.15"/><circle cx="498.6" cy="161.2" r="3.15"/><circle cx="499.9" cy="225.2" r="3.15"/><circle cx="500.4" cy="161.3" r="3.15"/><circle cx="501.7" cy="118.4" r="3.15"/><circle cx="502.5" cy="144.8" r="3.15"/><circle cx="503.1" cy="188.2" r="3.15"/><circle cx="503.9" cy="195.1" r="3.15"/><circle cx="504.5" cy="129.5" r="3.15"/><circle cx="505.5" cy="137.1" r="3.15"/><circle cx="506.2" cy="176.7" r="3.15"/><circle cx="507.1" cy="148.4" r="3.15"/><circle cx="507.7" cy="129.0" r="3.15"/><circle cx="509.1" cy="185.2" r="3.15"/><circle cx="509.3" cy="131.7" r="3.15"/><circle cx="510.5" cy="179.8" r="3.15"/><circle cx="511.2" cy="178.2" r="3.15"/><circle cx="512.2" cy="148.5" r="3.15"/><circle cx="512.7" cy="187.0" r="3.15"/><circle cx="513.4" cy="157.4" r="3.15"/><circle cx="514.2" cy="184.2" r="3.15"/><circle cx="514.9" cy="142.4" r="3.15"/><circle cx="516.3" cy="134.8" r="3.15"/><circle cx="516.9" cy="138.1" r="3.15"/><circle cx="517.3" cy="179.8" r="3.15"/><circle cx="518.5" cy="210.5" r="3.15"/><circle cx="518.9" cy="141.2" r="3.15"/><circle cx="519.8" cy="183.9" r="3.15"/><circle cx="520.7" cy="143.9" r="3.15"/><circle cx="521.2" cy="143.4" r="3.15"/><circle cx="522.3" cy="162.4" r="3.15"/><circle cx="523.2" cy="192.0" r="3.15"/><circle cx="524.4" cy="188.6" r="3.15"/><circle cx="525.1" cy="154.7" r="3.15"/><circle cx="525.6" cy="152.1" r="3.15"/><circle cx="526.1" cy="191.2" r="3.15"/><circle cx="527.3" cy="195.9" r="3.15"/><circle cx="528.3" cy="174.6" r="3.15"/><circle cx="529.1" cy="186.0" r="3.15"/><circle cx="529.3" cy="160.8" r="3.15"/><circle cx="530.3" cy="181.3" r="3.15"/><circle cx="531.0" cy="175.2" r="3.15"/><circle cx="532.1" cy="191.5" r="3.15"/><circle cx="532.6" cy="186.4" r="3.15"/><circle cx="534.0" cy="193.8" r="3.15"/><circle cx="534.3" cy="177.9" r="3.15"/><circle cx="535.5" cy="173.9" r="3.15"/><circle cx="536.3" cy="174.5" r="3.15"/><circle cx="536.7" cy="173.6" r="3.15"/><circle cx="537.4" cy="194.9" r="3.15"/><circle cx="538.3" cy="181.0" r="3.15"/><circle cx="539.4" cy="180.9" r="3.15"/></g>
<g fill="#a25771"><circle cx="135.4" cy="1053.7" r="3.15"/><circle cx="136.3" cy="1053.6" r="3.15"/><circle cx="137.3" cy="1055.1" r="3.15"/><circle cx="137.6" cy="1053.0" r="3.15"/><circle cx="138.6" cy="1054.7" r="3.15"/><circle cx="140.1" cy="1054.1" r="3.15"/><circle cx="140.7" cy="1054.2" r="3.15"/><circle cx="141.4" cy="1055.1" r="3.15"/><circle cx="142.2" cy="1053.2" r="3.15"/><circle cx="142.9" cy="1053.6" r="3.15"/><circle cx="143.8" cy="1055.5" r="3.15"/><circle cx="144.7" cy="1054.1" r="3.15"/><circle cx="145.2" cy="1055.6" r="3.15"/><circle cx="146.4" cy="1054.5" r="3.15"/><circle cx="147.1" cy="1053.4" r="3.15"/><circle cx="147.9" cy="1053.3" r="3.15"/><circle cx="148.5" cy="1053.7" r="3.15"/><circle cx="149.3" cy="1053.3" r="3.15"/><circle cx="150.5" cy="1055.7" r="3.15"/><circle cx="150.7" cy="1055.4" r="3.15"/><circle cx="152.2" cy="1054.9" r="3.15"/><circle cx="152.7" cy="1055.3" r="3.15"/><circle cx="153.4" cy="1055.1" r="3.15"/><circle cx="154.1" cy="1054.6" r="3.15"/><circle cx="155.1" cy="1053.7" r="3.15"/><circle cx="156.0" cy="1053.7" r="3.15"/><circle cx="156.9" cy="1053.5" r="3.15"/><circle cx="157.6" cy="1056.0" r="3.15"/><circle cx="158.6" cy="1053.7" r="3.15"/><circle cx="159.4" cy="1054.9" r="3.15"/><circle cx="160.1" cy="1056.0" r="3.15"/><circle cx="161.0" cy="1054.9" r="3.15"/><circle cx="161.3" cy="1056.5" r="3.15"/><circle cx="162.6" cy="1053.8" r="3.15"/><circle cx="162.8" cy="1054.4" r="3.15"/><circle cx="163.9" cy="1056.4" r="3.15"/><circle cx="164.6" cy="1054.6" r="3.15"/><circle cx="165.8" cy="1056.8" r="3.15"/><circle cx="166.4" cy="1056.8" r="3.15"/><circle cx="167.3" cy="1056.0" r="3.15"/><circle cx="168.3" cy="1054.1" r="3.15"/><circle cx="168.8" cy="1054.1" r="3.15"/><circle cx="169.4" cy="1056.9" r="3.15"/><circle cx="170.5" cy="1057.1" r="3.15"/><circle cx="171.0" cy="1056.0" r="3.15"/><circle cx="172.1" cy="1056.8" r="3.15"/><circle cx="172.5" cy="1054.6" r="3.15"/><circle cx="173.5" cy="1054.4" r="3.15"/><circle cx="174.8" cy="1056.3" r="3.15"/><circle cx="175.2" cy="1055.9" r="3.15"/><circle cx="176.2" cy="1055.7" r="3.15"/><circle cx="176.9" cy="1055.6" r="3.15"/><circle cx="178.0" cy="1056.0" r="3.15"/><circle cx="178.4" cy="1055.4" r="3.15"/><circle cx="179.1" cy="1056.7" r="3.15"/><circle cx="180.5" cy="1056.1" r="3.15"/><circle cx="181.0" cy="1057.8" r="3.15"/><circle cx="181.7" cy="1056.0" r="3.15"/><circle cx="182.2" cy="1055.9" r="3.15"/><circle cx="183.5" cy="1057.8" r="3.15"/><circle cx="184.3" cy="1056.5" r="3.15"/><circle cx="185.1" cy="1056.9" r="3.15"/><circle cx="185.9" cy="1055.6" r="3.15"/><circle cx="186.2" cy="1058.0" r="3.15"/><circle cx="187.5" cy="1054.9" r="3.15"/><circle cx="188.0" cy="1056.7" r="3.15"/><circle cx="189.1" cy="1057.2" r="3.15"/><circle cx="189.7" cy="1057.3" r="3.15"/><circle cx="190.5" cy="1056.3" r="3.15"/><circle cx="191.3" cy="1057.1" r="3.15"/><circle cx="192.5" cy="1058.5" r="3.15"/><circle cx="193.1" cy="1055.9" r="3.15"/><circle cx="193.7" cy="1057.9" r="3.15"/><circle cx="194.9" cy="1057.9" r="3.15"/><circle cx="195.2" cy="1057.1" r="3.15"/><circle cx="196.5" cy="1058.5" r="3.15"/><circle cx="197.0" cy="1057.6" r="3.15"/><circle cx="198.2" cy="1057.3" r="3.15"/><circle cx="199.0" cy="1058.4" r="3.15"/><circle cx="199.4" cy="1056.4" r="3.15"/><circle cx="200.7" cy="1057.3" r="3.15"/><circle cx="200.9" cy="1058.7" r="3.15"/><circle cx="202.0" cy="1058.5" r="3.15"/><circle cx="203.0" cy="1055.8" r="3.15"/><circle cx="203.3" cy="1058.2" r="3.15"/><circle cx="204.6" cy="1056.7" r="3.15"/><circle cx="205.4" cy="1058.0" r="3.15"/><circle cx="205.7" cy="1058.3" r="3.15"/><circle cx="207.1" cy="1058.5" r="3.15"/><circle cx="207.5" cy="1057.8" r="3.15"/><circle cx="208.4" cy="1057.9" r="3.15"/><circle cx="209.6" cy="1059.1" r="3.15"/><circle cx="209.7" cy="1055.5" r="3.15"/><circle cx="211.2" cy="1055.3" r="3.15"/><circle cx="211.6" cy="1055.5" r="3.15"/><circle cx="212.8" cy="1059.0" r="3.15"/><circle cx="213.5" cy="1056.1" r="3.15"/><circle cx="214.2" cy="1057.7" r="3.15"/><circle cx="214.7" cy="1058.6" r="3.15"/><circle cx="215.5" cy="1060.0" r="3.15"/><circle cx="216.6" cy="1058.9" r="3.15"/><circle cx="217.6" cy="1060.2" r="3.15"/><circle cx="218.5" cy="1057.0" r="3.15"/><circle cx="219.3" cy="1055.9" r="3.15"/><circle cx="220.1" cy="1057.6" r="3.15"/><circle cx="220.2" cy="1056.7" r="3.15"/><circle cx="221.1" cy="1059.1" r="3.15"/><circle cx="222.3" cy="1058.0" r="3.15"/><circle cx="222.9" cy="1055.8" r="3.15"/><circle cx="223.9" cy="1059.1" r="3.15"/><circle cx="224.4" cy="1056.3" r="3.15"/><circle cx="225.4" cy="1056.7" r="3.15"/><circle cx="226.1" cy="1060.0" r="3.15"/><circle cx="227.1" cy="1056.6" r="3.15"/><circle cx="227.6" cy="1056.7" r="3.15"/><circle cx="229.0" cy="1056.7" r="3.15"/><circle cx="229.7" cy="1061.3" r="3.15"/><circle cx="230.4" cy="1056.4" r="3.15"/><circle cx="230.7" cy="1059.8" r="3.15"/><circle cx="231.7" cy="1058.4" r="3.15"/><circle cx="232.7" cy="1058.8" r="3.15"/><circle cx="233.7" cy="1061.7" r="3.15"/><circle cx="234.0" cy="1061.0" r="3.15"/><circle cx="234.8" cy="1061.4" r="3.15"/><circle cx="236.3" cy="1056.7" r="3.15"/><circle cx="236.4" cy="1058.9" r="3.15"/><circle cx="237.4" cy="1060.1" r="3.15"/><circle cx="238.3" cy="1058.1" r="3.15"/><circle cx="239.3" cy="1060.0" r="3.15"/><circle cx="239.7" cy="1060.3" r="3.15"/><circle cx="240.5" cy="1058.8" r="3.15"/><circle cx="241.8" cy="1060.1" r="3.15"/><circle cx="242.1" cy="1061.5" r="3.15"/><circle cx="243.1" cy="1058.6" r="3.15"/><circle cx="244.3" cy="1060.3" r="3.15"/><circle cx="245.1" cy="1058.6" r="3.15"/><circle cx="245.6" cy="1060.5" r="3.15"/><circle cx="246.5" cy="1058.1" r="3.15"/><circle cx="247.2" cy="1058.2" r="3.15"/><circle cx="248.1" cy="1061.6" r="3.15"/><circle cx="248.9" cy="1058.3" r="3.15"/><circle cx="249.4" cy="1060.4" r="3.15"/><circle cx="250.5" cy="1057.0" r="3.15"/><circle cx="251.7" cy="1061.0" r="3.15"/><circle cx="252.5" cy="1057.7" r="3.15"/><circle cx="252.8" cy="1060.3" r="3.15"/><circle cx="253.5" cy="1057.6" r="3.15"/><circle cx="254.7" cy="1057.0" r="3.15"/><circle cx="255.6" cy="1058.9" r="3.15"/><circle cx="256.4" cy="1059.8" r="3.15"/><circle cx="256.7" cy="1059.6" r="3.15"/><circle cx="257.4" cy="1063.4" r="3.15"/><circle cx="258.8" cy="1064.3" r="3.15"/><circle cx="259.1" cy="1063.8" r="3.15"/><circle cx="260.5" cy="1062.9" r="3.15"/><circle cx="260.7" cy="1055.2" r="3.15"/><circle cx="261.5" cy="1054.6" r="3.15"/><circle cx="262.8" cy="1053.8" r="3.15"/><circle cx="263.8" cy="1057.0" r="3.15"/><circle cx="264.5" cy="1064.5" r="3.15"/><circle cx="265.3" cy="1057.5" r="3.15"/><circle cx="266.1" cy="1063.7" r="3.15"/><circle cx="266.9" cy="1048.9" r="3.15"/><circle cx="267.2" cy="1060.3" r="3.15"/><circle cx="268.4" cy="1050.1" r="3.15"/><circle cx="268.9" cy="1062.6" r="3.15"/><circle cx="269.7" cy="1054.0" r="3.15"/><circle cx="271.0" cy="1058.5" r="3.15"/><circle cx="271.5" cy="1058.3" r="3.15"/><circle cx="272.2" cy="1057.7" r="3.15"/><circle cx="272.8" cy="1055.7" r="3.15"/><circle cx="274.4" cy="1056.8" r="3.15"/><circle cx="275.0" cy="1062.4" r="3.15"/><circle cx="275.8" cy="1043.2" r="3.15"/><circle cx="276.6" cy="1050.4" r="3.15"/><circle cx="277.2" cy="1044.3" r="3.15"/><circle cx="278.4" cy="1061.3" r="3.15"/><circle cx="278.5" cy="1036.5" r="3.15"/><circle cx="280.0" cy="1044.9" r="3.15"/><circle cx="280.4" cy="1033.3" r="3.15"/><circle cx="281.0" cy="1055.5" r="3.15"/><circle cx="281.8" cy="1037.9" r="3.15"/><circle cx="282.7" cy="1055.9" r="3.15"/><circle cx="283.9" cy="1007.4" r="3.15"/><circle cx="284.3" cy="1024.7" r="3.15"/><circle cx="285.2" cy="1010.8" r="3.15"/><circle cx="286.2" cy="1051.7" r="3.15"/><circle cx="286.7" cy="1063.5" r="3.15"/><circle cx="287.7" cy="1042.2" r="3.15"/><circle cx="288.3" cy="1043.0" r="3.15"/><circle cx="289.2" cy="1006.0" r="3.15"/><circle cx="289.9" cy="982.4" r="3.15"/><circle cx="291.0" cy="1017.8" r="3.15"/><circle cx="291.8" cy="992.2" r="3.15"/><circle cx="292.9" cy="1017.4" r="3.15"/><circle cx="293.4" cy="999.2" r="3.15"/><circle cx="294.5" cy="1029.5" r="3.15"/><circle cx="295.2" cy="966.5" r="3.15"/><circle cx="295.8" cy="1044.1" r="3.15"/><circle cx="296.4" cy="990.8" r="3.15"/><circle cx="297.6" cy="958.2" r="3.15"/><circle cx="298.6" cy="1039.3" r="3.15"/><circle cx="298.8" cy="1037.2" r="3.15"/><circle cx="299.6" cy="982.6" r="3.15"/><circle cx="301.0" cy="953.4" r="3.15"/><circle cx="301.3" cy="956.4" r="3.15"/><circle cx="302.2" cy="1003.7" r="3.15"/><circle cx="303.3" cy="1033.3" r="3.15"/><circle cx="303.6" cy="951.3" r="3.15"/><circle cx="304.6" cy="998.7" r="3.15"/><circle cx="305.6" cy="960.3" r="3.15"/><circle cx="306.0" cy="993.9" r="3.15"/><circle cx="307.1" cy="972.9" r="3.15"/><circle cx="307.7" cy="960.1" r="3.15"/><circle cx="309.2" cy="972.2" r="3.15"/><circle cx="309.6" cy="995.4" r="3.15"/><circle cx="310.2" cy="939.8" r="3.15"/><circle cx="310.9" cy="914.6" r="3.15"/><circle cx="312.4" cy="982.5" r="3.15"/><circle cx="313.2" cy="950.9" r="3.15"/><circle cx="313.9" cy="909.6" r="3.15"/><circle cx="314.3" cy="915.1" r="3.15"/><circle cx="315.4" cy="895.9" r="3.15"/><circle cx="315.9" cy="898.1" r="3.15"/><circle cx="317.3" cy="898.1" r="3.15"/><circle cx="317.7" cy="951.2" r="3.15"/><circle cx="318.5" cy="923.0" r="3.15"/><circle cx="319.5" cy="886.9" r="3.15"/><circle cx="320.2" cy="934.1" r="3.15"/><circle cx="321.0" cy="887.3" r="3.15"/><circle cx="321.5" cy="861.6" r="3.15"/><circle cx="322.7" cy="932.1" r="3.15"/><circle cx="323.7" cy="926.9" r="3.15"/><circle cx="324.0" cy="871.0" r="3.15"/><circle cx="325.0" cy="883.2" r="3.15"/><circle cx="325.9" cy="889.5" r="3.15"/><circle cx="326.4" cy="914.6" r="3.15"/><circle cx="327.0" cy="863.7" r="3.15"/><circle cx="328.4" cy="874.6" r="3.15"/><circle cx="329.2" cy="888.3" r="3.15"/><circle cx="329.6" cy="884.9" r="3.15"/><circle cx="330.9" cy="915.1" r="3.15"/><circle cx="331.4" cy="891.5" r="3.15"/><circle cx="332.5" cy="881.1" r="3.15"/><circle cx="332.9" cy="876.8" r="3.15"/><circle cx="333.9" cy="847.6" r="3.15"/><circle cx="334.6" cy="842.0" r="3.15"/><circle cx="335.2" cy="888.0" r="3.15"/><circle cx="336.0" cy="903.6" r="3.15"/><circle cx="337.3" cy="850.5" r="3.15"/><circle cx="337.7" cy="895.2" r="3.15"/><circle cx="338.7" cy="849.1" r="3.15"/><circle cx="339.8" cy="848.6" r="3.15"/><circle cx="340.4" cy="898.9" r="3.15"/><circle cx="341.1" cy="894.0" r="3.15"/><circle cx="342.0" cy="861.7" r="3.15"/><circle cx="342.5" cy="888.2" r="3.15"/><circle cx="343.8" cy="912.5" r="3.15"/><circle cx="344.6" cy="838.1" r="3.15"/><circle cx="345.6" cy="875.8" r="3.15"/><circle cx="346.1" cy="859.9" r="3.15"/><circle cx="346.9" cy="832.2" r="3.15"/><circle cx="347.8" cy="882.5" r="3.15"/><circle cx="348.7" cy="867.0" r="3.15"/><circle cx="349.3" cy="849.0" r="3.15"/><circle cx="349.7" cy="845.9" r="3.15"/><circle cx="351.0" cy="866.0" r="3.15"/><circle cx="351.7" cy="868.3" r="3.15"/><circle cx="352.2" cy="862.8" r="3.15"/><circle cx="352.9" cy="864.9" r="3.15"/><circle cx="354.2" cy="869.0" r="3.15"/><circle cx="355.0" cy="833.0" r="3.15"/><circle cx="356.0" cy="896.5" r="3.15"/><circle cx="356.8" cy="855.2" r="3.15"/><circle cx="357.0" cy="875.3" r="3.15"/><circle cx="357.9" cy="902.9" r="3.15"/><circle cx="359.0" cy="834.6" r="3.15"/><circle cx="359.6" cy="838.3" r="3.15"/><circle cx="360.7" cy="895.5" r="3.15"/><circle cx="361.7" cy="856.1" r="3.15"/><circle cx="362.5" cy="848.1" r="3.15"/><circle cx="363.2" cy="875.7" r="3.15"/><circle cx="364.1" cy="834.1" r="3.15"/><circle cx="364.9" cy="868.0" r="3.15"/><circle cx="365.6" cy="864.3" r="3.15"/><circle cx="365.9" cy="907.1" r="3.15"/><circle cx="366.7" cy="888.4" r="3.15"/><circle cx="367.6" cy="863.2" r="3.15"/><circle cx="368.8" cy="860.2" r="3.15"/><circle cx="369.4" cy="852.1" r="3.15"/><circle cx="370.1" cy="865.6" r="3.15"/><circle cx="371.3" cy="870.4" r="3.15"/><circle cx="371.6" cy="835.4" r="3.15"/><circle cx="372.9" cy="873.2" r="3.15"/><circle cx="373.4" cy="860.4" r="3.15"/><circle cx="374.4" cy="885.8" r="3.15"/><circle cx="374.7" cy="887.2" r="3.15"/><circle cx="376.2" cy="893.9" r="3.15"/><circle cx="376.7" cy="888.4" r="3.15"/><circle cx="377.3" cy="890.9" r="3.15"/><circle cx="378.3" cy="891.1" r="3.15"/><circle cx="378.8" cy="897.6" r="3.15"/><circle cx="379.7" cy="863.0" r="3.15"/><circle cx="380.5" cy="910.2" r="3.15"/><circle cx="381.6" cy="869.3" r="3.15"/><circle cx="382.6" cy="905.3" r="3.15"/><circle cx="383.2" cy="870.1" r="3.15"/><circle cx="383.7" cy="830.2" r="3.15"/><circle cx="384.6" cy="899.3" r="3.15"/><circle cx="385.6" cy="891.2" r="3.15"/><circle cx="386.6" cy="874.1" r="3.15"/><circle cx="387.0" cy="905.0" r="3.15"/><circle cx="388.3" cy="880.3" r="3.15"/><circle cx="389.1" cy="864.3" r="3.15"/><circle cx="390.1" cy="877.9" r="3.15"/><circle cx="390.3" cy="881.0" r="3.15"/><circle cx="391.6" cy="851.9" r="3.15"/><circle cx="392.0" cy="899.1" r="3.15"/><circle cx="393.1" cy="829.1" r="3.15"/><circle cx="393.8" cy="914.3" r="3.15"/><circle cx="394.2" cy="899.5" r="3.15"/><circle cx="395.1" cy="907.2" r="3.15"/><circle cx="395.8" cy="849.8" r="3.15"/><circle cx="397.3" cy="887.0" r="3.15"/><circle cx="398.2" cy="862.8" r="3.15"/><circle cx="398.9" cy="831.8" r="3.15"/><circle cx="399.8" cy="907.5" r="3.15"/><circle cx="400.1" cy="852.9" r="3.15"/><circle cx="401.4" cy="899.5" r="3.15"/><circle cx="401.7" cy="836.0" r="3.15"/><circle cx="402.3" cy="869.5" r="3.15"/><circle cx="403.3" cy="847.4" r="3.15"/><circle cx="404.6" cy="889.3" r="3.15"/><circle cx="405.3" cy="843.5" r="3.15"/><circle cx="406.2" cy="856.2" r="3.15"/><circle cx="407.0" cy="871.1" r="3.15"/><circle cx="407.4" cy="883.2" r="3.15"/><circle cx="408.5" cy="860.9" r="3.15"/><circle cx="408.9" cy="888.9" r="3.15"/><circle cx="410.1" cy="850.7" r="3.15"/><circle cx="410.9" cy="867.7" r="3.15"/><circle cx="411.5" cy="889.9" r="3.15"/><circle cx="412.5" cy="907.8" r="3.15"/><circle cx="413.2" cy="838.5" r="3.15"/><circle cx="414.1" cy="896.0" r="3.15"/><circle cx="414.6" cy="832.0" r="3.15"/><circle cx="415.7" cy="829.1" r="3.15"/><circle cx="416.7" cy="860.4" r="3.15"/><circle cx="417.5" cy="838.4" r="3.15"/><circle cx="417.9" cy="866.8" r="3.15"/><circle cx="418.5" cy="864.0" r="3.15"/><circle cx="420.0" cy="893.5" r="3.15"/><circle cx="420.5" cy="892.7" r="3.15"/><circle cx="420.9" cy="843.1" r="3.15"/><circle cx="421.9" cy="901.1" r="3.15"/><circle cx="422.6" cy="842.7" r="3.15"/><circle cx="423.8" cy="907.9" r="3.15"/><circle cx="424.3" cy="819.0" r="3.15"/><circle cx="425.1" cy="848.1" r="3.15"/><circle cx="426.1" cy="831.1" r="3.15"/><circle cx="427.0" cy="830.2" r="3.15"/><circle cx="427.8" cy="881.5" r="3.15"/><circle cx="428.3" cy="894.9" r="3.15"/><circle cx="429.6" cy="890.0" r="3.15"/><circle cx="429.8" cy="816.4" r="3.15"/><circle cx="430.7" cy="821.0" r="3.15"/><circle cx="431.5" cy="853.7" r="3.15"/><circle cx="432.4" cy="824.8" r="3.15"/><circle cx="433.5" cy="838.4" r="3.15"/><circle cx="434.4" cy="820.8" r="3.15"/><circle cx="434.9" cy="840.9" r="3.15"/><circle cx="435.8" cy="888.6" r="3.15"/><circle cx="436.9" cy="840.8" r="3.15"/><circle cx="437.7" cy="876.6" r="3.15"/><circle cx="438.3" cy="851.2" r="3.15"/><circle cx="439.3" cy="892.5" r="3.15"/><circle cx="439.8" cy="848.9" r="3.15"/><circle cx="440.3" cy="842.9" r="3.15"/><circle cx="441.7" cy="853.7" r="3.15"/><circle cx="442.4" cy="837.6" r="3.15"/><circle cx="442.9" cy="860.0" r="3.15"/><circle cx="444.3" cy="861.0" r="3.15"/><circle cx="444.7" cy="890.1" r="3.15"/><circle cx="445.3" cy="879.1" r="3.15"/><circle cx="446.7" cy="826.2" r="3.15"/><circle cx="447.5" cy="806.4" r="3.15"/><circle cx="448.1" cy="810.1" r="3.15"/><circle cx="448.8" cy="851.5" r="3.15"/><circle cx="450.0" cy="811.3" r="3.15"/><circle cx="450.8" cy="844.8" r="3.15"/><circle cx="451.4" cy="851.5" r="3.15"/><circle cx="452.4" cy="808.0" r="3.15"/><circle cx="452.7" cy="806.7" r="3.15"/><circle cx="453.4" cy="885.6" r="3.15"/><circle cx="454.6" cy="860.9" r="3.15"/><circle cx="455.3" cy="827.9" r="3.15"/><circle cx="455.7" cy="818.7" r="3.15"/><circle cx="456.7" cy="845.7" r="3.15"/><circle cx="457.6" cy="817.3" r="3.15"/><circle cx="458.7" cy="859.4" r="3.15"/><circle cx="459.0" cy="857.9" r="3.15"/><circle cx="460.0" cy="885.4" r="3.15"/><circle cx="460.6" cy="812.9" r="3.15"/><circle cx="461.9" cy="794.0" r="3.15"/><circle cx="462.9" cy="801.2" r="3.15"/><circle cx="463.2" cy="872.1" r="3.15"/><circle cx="464.0" cy="837.9" r="3.15"/><circle cx="465.0" cy="829.5" r="3.15"/><circle cx="465.7" cy="800.6" r="3.15"/><circle cx="466.4" cy="836.3" r="3.15"/><circle cx="467.7" cy="802.8" r="3.15"/><circle cx="468.0" cy="859.5" r="3.15"/><circle cx="469.3" cy="894.2" r="3.15"/><circle cx="469.5" cy="827.4" r="3.15"/><circle cx="470.7" cy="868.0" r="3.15"/><circle cx="471.1" cy="862.8" r="3.15"/><circle cx="472.5" cy="832.1" r="3.15"/><circle cx="473.4" cy="799.6" r="3.15"/><circle cx="474.3" cy="886.5" r="3.15"/><circle cx="474.4" cy="891.0" r="3.15"/><circle cx="475.4" cy="844.3" r="3.15"/><circle cx="475.9" cy="821.3" r="3.15"/><circle cx="476.8" cy="846.7" r="3.15"/><circle cx="477.7" cy="794.2" r="3.15"/><circle cx="478.7" cy="851.9" r="3.15"/><circle cx="479.2" cy="831.8" r="3.15"/><circle cx="480.4" cy="804.6" r="3.15"/><circle cx="481.5" cy="790.2" r="3.15"/><circle cx="481.8" cy="867.0" r="3.15"/><circle cx="483.0" cy="790.8" r="3.15"/><circle cx="483.6" cy="785.7" r="3.15"/><circle cx="484.4" cy="845.5" r="3.15"/><circle cx="484.9" cy="884.2" r="3.15"/><circle cx="486.1" cy="775.1" r="3.15"/><circle cx="487.1" cy="819.4" r="3.15"/><circle cx="487.8" cy="769.3" r="3.15"/><circle cx="488.7" cy="802.1" r="3.15"/><circle cx="489.2" cy="810.8" r="3.15"/><circle cx="489.8" cy="851.8" r="3.15"/><circle cx="491.0" cy="757.6" r="3.15"/><circle cx="491.7" cy="820.3" r="3.15"/><circle cx="492.4" cy="813.8" r="3.15"/><circle cx="493.5" cy="812.5" r="3.15"/><circle cx="494.5" cy="850.3" r="3.15"/><circle cx="494.8" cy="802.6" r="3.15"/><circle cx="495.6" cy="764.8" r="3.15"/><circle cx="496.8" cy="756.0" r="3.15"/><circle cx="497.4" cy="868.1" r="3.15"/><circle cx="498.2" cy="796.5" r="3.15"/><circle cx="498.9" cy="828.3" r="3.15"/><circle cx="499.9" cy="758.0" r="3.15"/><circle cx="500.3" cy="782.6" r="3.15"/><circle cx="501.3" cy="798.6" r="3.15"/><circle cx="502.5" cy="753.4" r="3.15"/><circle cx="503.1" cy="835.4" r="3.15"/><circle cx="504.2" cy="836.3" r="3.15"/><circle cx="504.5" cy="765.7" r="3.15"/><circle cx="505.3" cy="823.5" r="3.15"/><circle cx="506.6" cy="755.2" r="3.15"/><circle cx="506.9" cy="808.0" r="3.15"/><circle cx="507.7" cy="839.6" r="3.15"/><circle cx="508.5" cy="752.2" r="3.15"/><circle cx="509.1" cy="824.9" r="3.15"/><circle cx="510.0" cy="845.1" r="3.15"/><circle cx="511.1" cy="772.0" r="3.15"/><circle cx="512.2" cy="781.9" r="3.15"/><circle cx="513.0" cy="855.9" r="3.15"/><circle cx="513.3" cy="757.7" r="3.15"/><circle cx="514.0" cy="817.1" r="3.15"/><circle cx="515.1" cy="816.5" r="3.15"/><circle cx="516.0" cy="839.6" r="3.15"/><circle cx="516.5" cy="766.2" r="3.15"/><circle cx="517.3" cy="771.3" r="3.15"/><circle cx="518.1" cy="768.3" r="3.15"/><circle cx="519.3" cy="790.3" r="3.15"/><circle cx="519.7" cy="829.8" r="3.15"/><circle cx="521.0" cy="817.9" r="3.15"/><circle cx="521.4" cy="784.6" r="3.15"/><circle cx="522.7" cy="825.0" r="3.15"/><circle cx="523.6" cy="802.7" r="3.15"/><circle cx="523.9" cy="821.4" r="3.15"/><circle cx="524.8" cy="789.5" r="3.15"/><circle cx="525.5" cy="820.2" r="3.15"/><circle cx="526.2" cy="820.2" r="3.15"/><circle cx="527.2" cy="800.0" r="3.15"/><circle cx="527.7" cy="818.2" r="3.15"/><circle cx="529.3" cy="804.8" r="3.15"/><circle cx="530.1" cy="821.8" r="3.15"/><circle cx="530.4" cy="809.0" r="3.15"/><circle cx="531.3" cy="816.2" r="3.15"/><circle cx="532.0" cy="830.2" r="3.15"/><circle cx="532.8" cy="819.4" r="3.15"/><circle cx="534.0" cy="825.5" r="3.15"/><circle cx="534.5" cy="827.4" r="3.15"/><circle cx="535.3" cy="829.5" r="3.15"/><circle cx="536.5" cy="837.1" r="3.15"/><circle cx="537.1" cy="828.4" r="3.15"/><circle cx="538.1" cy="841.1" r="3.15"/><circle cx="539.0" cy="835.0" r="3.15"/><circle cx="539.2" cy="842.4" r="3.15"/></g>
<g fill="#b4d6cc"><circle cx="135.4" cy="1034.4" r="3.15"/><circle cx="136.3" cy="1034.4" r="3.15"/><circle cx="136.9" cy="1034.0" r="3.15"/><circle cx="138.4" cy="1033.5" r="3.15"/><circle cx="139.1" cy="1034.5" r="3.15"/><circle cx="139.7" cy="1034.5" r="3.15"/><circle cx="140.2" cy="1034.8" r="3.15"/><circle cx="141.0" cy="1033.6" r="3.15"/><circle cx="142.3" cy="1033.9" r="3.15"/><circle cx="143.1" cy="1035.0" r="3.15"/><circle cx="143.5" cy="1034.3" r="3.15"/><circle cx="144.7" cy="1034.0" r="3.15"/><circle cx="145.6" cy="1035.4" r="3.15"/><circle cx="146.2" cy="1034.4" r="3.15"/><circle cx="146.9" cy="1035.3" r="3.15"/><circle cx="147.7" cy="1035.6" r="3.15"/><circle cx="148.9" cy="1034.3" r="3.15"/><circle cx="149.4" cy="1035.3" r="3.15"/><circle cx="150.5" cy="1035.0" r="3.15"/><circle cx="151.3" cy="1034.5" r="3.15"/><circle cx="151.8" cy="1035.4" r="3.15"/><circle cx="152.7" cy="1035.4" r="3.15"/><circle cx="153.1" cy="1035.7" r="3.15"/><circle cx="154.5" cy="1036.3" r="3.15"/><circle cx="154.7" cy="1035.2" r="3.15"/><circle cx="155.7" cy="1035.5" r="3.15"/><circle cx="156.6" cy="1035.9" r="3.15"/><circle cx="157.9" cy="1036.3" r="3.15"/><circle cx="158.2" cy="1036.3" r="3.15"/><circle cx="159.2" cy="1036.3" r="3.15"/><circle cx="159.8" cy="1035.4" r="3.15"/><circle cx="160.5" cy="1035.9" r="3.15"/><circle cx="161.8" cy="1036.8" r="3.15"/><circle cx="162.0" cy="1036.6" r="3.15"/><circle cx="163.3" cy="1036.0" r="3.15"/><circle cx="163.7" cy="1036.6" r="3.15"/><circle cx="164.5" cy="1036.4" r="3.15"/><circle cx="165.2" cy="1036.0" r="3.15"/><circle cx="166.7" cy="1035.6" r="3.15"/><circle cx="167.4" cy="1035.7" r="3.15"/><circle cx="167.6" cy="1037.0" r="3.15"/><circle cx="169.2" cy="1036.2" r="3.15"/><circle cx="169.5" cy="1035.9" r="3.15"/><circle cx="170.5" cy="1036.2" r="3.15"/><circle cx="171.0" cy="1037.5" r="3.15"/><circle cx="172.0" cy="1037.7" r="3.15"/><circle cx="172.7" cy="1036.1" r="3.15"/><circle cx="173.5" cy="1038.1" r="3.15"/><circle cx="174.1" cy="1037.8" r="3.15"/><circle cx="175.5" cy="1037.6" r="3.15"/><circle cx="175.9" cy="1038.1" r="3.15"/><circle cx="177.3" cy="1037.6" r="3.15"/><circle cx="177.4" cy="1038.4" r="3.15"/><circle cx="178.1" cy="1038.2" r="3.15"/><circle cx="179.4" cy="1038.4" r="3.15"/><circle cx="179.7" cy="1037.7" r="3.15"/><circle cx="180.7" cy="1036.7" r="3.15"/><circle cx="181.4" cy="1037.7" r="3.15"/><circle cx="182.8" cy="1038.1" r="3.15"/><circle cx="183.7" cy="1038.0" r="3.15"/><circle cx="184.0" cy="1038.2" r="3.15"/><circle cx="184.6" cy="1038.2" r="3.15"/><circle cx="185.6" cy="1037.3" r="3.15"/><circle cx="186.9" cy="1038.2" r="3.15"/><circle cx="187.0" cy="1038.8" r="3.15"/><circle cx="188.0" cy="1039.0" r="3.15"/><circle cx="188.8" cy="1037.6" r="3.15"/><circle cx="189.5" cy="1039.4" r="3.15"/><circle cx="191.0" cy="1038.4" r="3.15"/><circle cx="191.8" cy="1038.9" r="3.15"/><circle cx="192.6" cy="1038.4" r="3.15"/><circle cx="193.3" cy="1038.3" r="3.15"/><circle cx="193.9" cy="1039.7" r="3.15"/><circle cx="194.4" cy="1038.1" r="3.15"/><circle cx="195.8" cy="1038.1" r="3.15"/><circle cx="196.2" cy="1038.7" r="3.15"/><circle cx="197.4" cy="1038.8" r="3.15"/><circle cx="198.2" cy="1039.1" r="3.15"/><circle cx="198.9" cy="1038.8" r="3.15"/><circle cx="199.3" cy="1038.4" r="3.15"/><circle cx="200.7" cy="1040.3" r="3.15"/><circle cx="201.5" cy="1038.5" r="3.15"/><circle cx="202.1" cy="1040.5" r="3.15"/><circle cx="203.1" cy="1040.4" r="3.15"/><circle cx="204.0" cy="1039.3" r="3.15"/><circle cx="204.0" cy="1040.4" r="3.15"/><circle cx="205.3" cy="1039.6" r="3.15"/><circle cx="206.2" cy="1038.9" r="3.15"/><circle cx="206.6" cy="1040.9" r="3.15"/><circle cx="208.0" cy="1041.0" r="3.15"/><circle cx="208.7" cy="1040.8" r="3.15"/><circle cx="209.5" cy="1039.5" r="3.15"/><circle cx="210.4" cy="1040.1" r="3.15"/><circle cx="211.2" cy="1040.9" r="3.15"/><circle cx="211.8" cy="1040.6" r="3.15"/><circle cx="212.8" cy="1039.8" r="3.15"/><circle cx="213.3" cy="1040.4" r="3.15"/><circle cx="213.7" cy="1041.4" r="3.15"/><circle cx="215.0" cy="1040.6" r="3.15"/><circle cx="216.0" cy="1040.4" r="3.15"/><circle cx="216.2" cy="1040.9" r="3.15"/><circle cx="217.6" cy="1040.7" r="3.15"/><circle cx="217.8" cy="1040.1" r="3.15"/><circle cx="219.2" cy="1041.8" r="3.15"/><circle cx="219.8" cy="1041.2" r="3.15"/><circle cx="220.8" cy="1041.4" r="3.15"/><circle cx="221.2" cy="1041.1" r="3.15"/><circle cx="222.6" cy="1042.0" r="3.15"/><circle cx="222.7" cy="1040.9" r="3.15"/><circle cx="224.1" cy="1041.3" r="3.15"/><circle cx="224.6" cy="1040.6" r="3.15"/><circle cx="225.7" cy="1042.3" r="3.15"/><circle cx="226.5" cy="1042.1" r="3.15"/><circle cx="226.9" cy="1040.8" r="3.15"/><circle cx="227.8" cy="1041.0" r="3.15"/><circle cx="228.4" cy="1040.9" r="3.15"/><circle cx="229.2" cy="1042.5" r="3.15"/><circle cx="230.3" cy="1042.1" r="3.15"/><circle cx="231.1" cy="1041.0" r="3.15"/><circle cx="232.1" cy="1043.0" r="3.15"/><circle cx="232.6" cy="1041.9" r="3.15"/><circle cx="233.5" cy="1041.6" r="3.15"/><circle cx="234.3" cy="1043.1" r="3.15"/><circle cx="234.9" cy="1041.4" r="3.15"/><circle cx="235.8" cy="1041.7" r="3.15"/><circle cx="237.2" cy="1042.1" r="3.15"/><circle cx="237.7" cy="1042.2" r="3.15"/><circle cx="238.2" cy="1041.5" r="3.15"/><circle cx="239.2" cy="1041.6" r="3.15"/><circle cx="239.8" cy="1041.7" r="3.15"/><circle cx="241.0" cy="1042.4" r="3.15"/><circle cx="241.6" cy="1043.6" r="3.15"/><circle cx="242.6" cy="1043.1" r="3.15"/><circle cx="243.4" cy="1043.8" r="3.15"/><circle cx="243.7" cy="1043.8" r="3.15"/><circle cx="245.1" cy="1043.8" r="3.15"/><circle cx="246.0" cy="1043.4" r="3.15"/><circle cx="246.5" cy="1043.5" r="3.15"/><circle cx="247.4" cy="1044.2" r="3.15"/><circle cx="248.0" cy="1042.1" r="3.15"/><circle cx="248.6" cy="1042.9" r="3.15"/><circle cx="249.6" cy="1043.9" r="3.15"/><circle cx="250.1" cy="1044.7" r="3.15"/><circle cx="251.7" cy="1042.7" r="3.15"/><circle cx="252.4" cy="1042.8" r="3.15"/><circle cx="253.3" cy="1044.6" r="3.15"/><circle cx="253.8" cy="1043.7" r="3.15"/><circle cx="254.6" cy="1042.6" r="3.15"/><circle cx="255.6" cy="1042.6" r="3.15"/><circle cx="255.9" cy="1043.5" r="3.15"/><circle cx="257.1" cy="1043.3" r="3.15"/><circle cx="257.9" cy="1043.1" r="3.15"/><circle cx="258.5" cy="1042.9" r="3.15"/><circle cx="259.3" cy="1043.9" r="3.15"/><circle cx="260.6" cy="1043.7" r="3.15"/><circle cx="260.9" cy="1045.1" r="3.15"/><circle cx="261.7" cy="1044.0" r="3.15"/><circle cx="263.1" cy="1043.3" r="3.15"/><circle cx="263.4" cy="1044.8" r="3.15"/><circle cx="264.5" cy="1045.3" r="3.15"/><circle cx="265.0" cy="1046.1" r="3.15"/><circle cx="265.6" cy="1044.6" r="3.15"/><circle cx="266.9" cy="1044.5" r="3.15"/><circle cx="267.4" cy="1043.5" r="3.15"/><circle cx="268.4" cy="1046.0" r="3.15"/><circle cx="268.8" cy="1043.5" r="3.15"/><circle cx="270.3" cy="1043.8" r="3.15"/><circle cx="270.8" cy="1045.7" r="3.15"/><circle cx="271.2" cy="1045.9" r="3.15"/><circle cx="272.1" cy="1043.8" r="3.15"/><circle cx="273.5" cy="1044.4" r="3.15"/><circle cx="273.7" cy="1046.2" r="3.15"/><circle cx="274.6" cy="1043.9" r="3.15"/><circle cx="275.3" cy="1044.4" r="3.15"/><circle cx="276.6" cy="1045.3" r="3.15"/><circle cx="277.6" cy="1046.4" r="3.15"/><circle cx="278.1" cy="1046.8" r="3.15"/><circle cx="278.5" cy="1047.2" r="3.15"/><circle cx="279.5" cy="1047.0" r="3.15"/><circle cx="280.1" cy="1043.9" r="3.15"/><circle cx="281.1" cy="1044.3" r="3.15"/><circle cx="282.2" cy="1045.0" r="3.15"/><circle cx="283.0" cy="1044.2" r="3.15"/><circle cx="284.0" cy="1045.1" r="3.15"/><circle cx="284.6" cy="1045.2" r="3.15"/><circle cx="285.5" cy="1045.8" r="3.15"/><circle cx="286.1" cy="1047.4" r="3.15"/><circle cx="287.2" cy="1046.2" r="3.15"/><circle cx="287.4" cy="1047.4" r="3.15"/><circle cx="288.9" cy="1047.2" r="3.15"/><circle cx="289.3" cy="1045.5" r="3.15"/><circle cx="290.5" cy="1047.0" r="3.15"/><circle cx="290.9" cy="1046.7" r="3.15"/><circle cx="291.4" cy="1044.9" r="3.15"/><circle cx="292.2" cy="1044.6" r="3.15"/><circle cx="293.1" cy="1047.9" r="3.15"/><circle cx="294.5" cy="1045.2" r="3.15"/><circle cx="294.8" cy="1046.4" r="3.15"/><circle cx="295.8" cy="1045.7" r="3.15"/><circle cx="296.4" cy="1045.2" r="3.15"/><circle cx="297.9" cy="1045.0" r="3.15"/><circle cx="298.6" cy="1043.0" r="3.15"/><circle cx="299.0" cy="1043.4" r="3.15"/><circle cx="300.2" cy="1045.0" r="3.15"/><circle cx="300.4" cy="1044.6" r="3.15"/><circle cx="301.8" cy="1047.4" r="3.15"/><circle cx="302.4" cy="1040.5" r="3.15"/><circle cx="303.2" cy="1050.3" r="3.15"/><circle cx="304.0" cy="1048.1" r="3.15"/><circle cx="305.0" cy="1042.5" r="3.15"/><circle cx="305.4" cy="1038.5" r="3.15"/><circle cx="306.5" cy="1047.2" r="3.15"/><circle cx="307.4" cy="1037.1" r="3.15"/><circle cx="308.3" cy="1036.7" r="3.15"/><circle cx="308.9" cy="1040.4" r="3.15"/><circle cx="309.7" cy="1043.5" r="3.15"/><circle cx="310.8" cy="1046.5" r="3.15"/><circle cx="310.9" cy="1038.0" r="3.15"/><circle cx="312.0" cy="1041.4" r="3.15"/><circle cx="312.9" cy="1048.0" r="3.15"/><circle cx="313.4" cy="1050.7" r="3.15"/><circle cx="314.7" cy="1026.0" r="3.15"/><circle cx="315.4" cy="1049.9" r="3.15"/><circle cx="316.5" cy="1020.7" r="3.15"/><circle cx="316.9" cy="1043.8" r="3.15"/><circle cx="318.0" cy="1016.9" r="3.15"/><circle cx="318.6" cy="1034.5" r="3.15"/><circle cx="319.5" cy="1028.6" r="3.15"/><circle cx="320.1" cy="1019.2" r="3.15"/><circle cx="320.8" cy="978.2" r="3.15"/><circle cx="321.9" cy="970.2" r="3.15"/><circle cx="322.4" cy="988.4" r="3.15"/><circle cx="323.4" cy="999.4" r="3.15"/><circle cx="324.1" cy="938.7" r="3.15"/><circle cx="325.2" cy="934.0" r="3.15"/><circle cx="325.6" cy="941.7" r="3.15"/><circle cx="326.8" cy="932.1" r="3.15"/><circle cx="327.3" cy="965.6" r="3.15"/><circle cx="327.8" cy="911.8" r="3.15"/><circle cx="329.4" cy="946.7" r="3.15"/><circle cx="330.0" cy="932.5" r="3.15"/><circle cx="330.7" cy="892.6" r="3.15"/><circle cx="331.3" cy="906.8" r="3.15"/><circle cx="332.1" cy="912.7" r="3.15"/><circle cx="332.7" cy="932.2" r="3.15"/><circle cx="333.7" cy="874.1" r="3.15"/><circle cx="334.4" cy="885.7" r="3.15"/><circle cx="335.2" cy="864.0" r="3.15"/><circle cx="336.0" cy="939.3" r="3.15"/><circle cx="336.9" cy="863.9" r="3.15"/><circle cx="338.1" cy="864.5" r="3.15"/><circle cx="338.7" cy="931.3" r="3.15"/><circle cx="339.4" cy="899.5" r="3.15"/><circle cx="340.7" cy="922.1" r="3.15"/><circle cx="340.9" cy="861.0" r="3.15"/><circle cx="341.7" cy="848.6" r="3.15"/><circle cx="342.6" cy="884.8" r="3.15"/><circle cx="343.7" cy="854.1" r="3.15"/><circle cx="344.0" cy="859.5" r="3.15"/><circle cx="344.9" cy="871.0" r="3.15"/><circle cx="345.6" cy="866.5" r="3.15"/><circle cx="346.6" cy="916.9" r="3.15"/><circle cx="347.3" cy="906.2" r="3.15"/><circle cx="348.3" cy="846.8" r="3.15"/><circle cx="349.3" cy="902.5" r="3.15"/><circle cx="350.5" cy="919.7" r="3.15"/><circle cx="350.6" cy="848.9" r="3.15"/><circle cx="352.0" cy="873.3" r="3.15"/><circle cx="352.9" cy="929.9" r="3.15"/><circle cx="353.6" cy="871.3" r="3.15"/><circle cx="354.2" cy="858.7" r="3.15"/><circle cx="354.6" cy="917.0" r="3.15"/><circle cx="355.4" cy="891.6" r="3.15"/><circle cx="356.6" cy="885.9" r="3.15"/><circle cx="357.2" cy="867.4" r="3.15"/><circle cx="358.4" cy="866.0" r="3.15"/><circle cx="358.6" cy="920.9" r="3.15"/><circle cx="359.5" cy="913.1" r="3.15"/><circle cx="360.6" cy="917.0" r="3.15"/><circle cx="361.5" cy="903.3" r="3.15"/><circle cx="362.1" cy="870.2" r="3.15"/><circle cx="363.4" cy="917.1" r="3.15"/><circle cx="363.7" cy="845.1" r="3.15"/><circle cx="364.4" cy="932.0" r="3.15"/><circle cx="365.2" cy="859.2" r="3.15"/><circle cx="366.4" cy="848.7" r="3.15"/><circle cx="367.0" cy="930.5" r="3.15"/><circle cx="367.7" cy="868.6" r="3.15"/><circle cx="368.6" cy="921.4" r="3.15"/><circle cx="369.4" cy="891.8" r="3.15"/><circle cx="370.2" cy="893.3" r="3.15"/><circle cx="370.8" cy="931.3" r="3.15"/><circle cx="372.1" cy="866.9" r="3.15"/><circle cx="372.6" cy="923.4" r="3.15"/><circle cx="373.4" cy="882.8" r="3.15"/><circle cx="374.7" cy="889.7" r="3.15"/><circle cx="375.5" cy="885.4" r="3.15"/><circle cx="375.7" cy="877.3" r="3.15"/><circle cx="376.8" cy="878.7" r="3.15"/><circle cx="377.8" cy="931.6" r="3.15"/><circle cx="378.3" cy="860.1" r="3.15"/><circle cx="378.9" cy="929.7" r="3.15"/><circle cx="379.7" cy="907.3" r="3.15"/><circle cx="380.8" cy="904.5" r="3.15"/><circle cx="381.7" cy="917.8" r="3.15"/><circle cx="382.3" cy="871.1" r="3.15"/><circle cx="383.3" cy="844.9" r="3.15"/><circle cx="384.4" cy="909.5" r="3.15"/><circle cx="384.7" cy="883.6" r="3.15"/><circle cx="385.7" cy="899.4" r="3.15"/><circle cx="386.8" cy="914.9" r="3.15"/><circle cx="387.3" cy="921.9" r="3.15"/><circle cx="388.4" cy="877.5" r="3.15"/><circle cx="389.3" cy="919.3" r="3.15"/><circle cx="389.9" cy="877.0" r="3.15"/><circle cx="390.2" cy="856.1" r="3.15"/><circle cx="391.6" cy="924.6" r="3.15"/><circle cx="392.5" cy="858.6" r="3.15"/><circle cx="393.0" cy="881.0" r="3.15"/><circle cx="393.6" cy="926.4" r="3.15"/><circle cx="394.5" cy="850.4" r="3.15"/><circle cx="395.1" cy="887.1" r="3.15"/><circle cx="396.0" cy="866.3" r="3.15"/><circle cx="397.4" cy="847.4" r="3.15"/><circle cx="397.6" cy="891.7" r="3.15"/><circle cx="398.2" cy="880.9" r="3.15"/><circle cx="399.7" cy="850.7" r="3.15"/><circle cx="399.9" cy="889.5" r="3.15"/><circle cx="400.7" cy="890.1" r="3.15"/><circle cx="402.2" cy="903.1" r="3.15"/><circle cx="402.9" cy="839.1" r="3.15"/><circle cx="403.7" cy="910.5" r="3.15"/><circle cx="404.6" cy="841.6" r="3.15"/><circle cx="405.5" cy="928.4" r="3.15"/><circle cx="405.5" cy="901.6" r="3.15"/><circle cx="406.7" cy="888.6" r="3.15"/><circle cx="407.2" cy="867.7" r="3.15"/><circle cx="408.5" cy="868.3" r="3.15"/><circle cx="409.1" cy="875.9" r="3.15"/><circle cx="410.1" cy="922.3" r="3.15"/><circle cx="410.7" cy="915.4" r="3.15"/><circle cx="411.2" cy="854.8" r="3.15"/><circle cx="412.2" cy="895.3" r="3.15"/><circle cx="413.0" cy="871.1" r="3.15"/><circle cx="413.7" cy="865.7" r="3.15"/><circle cx="414.4" cy="835.0" r="3.15"/><circle cx="415.3" cy="852.9" r="3.15"/><circle cx="416.5" cy="885.9" r="3.15"/><circle cx="417.1" cy="892.2" r="3.15"/><circle cx="418.2" cy="875.7" r="3.15"/><circle cx="418.9" cy="902.6" r="3.15"/><circle cx="419.8" cy="910.0" r="3.15"/><circle cx="420.4" cy="862.7" r="3.15"/><circle cx="421.3" cy="869.4" r="3.15"/><circle cx="422.1" cy="907.1" r="3.15"/><circle cx="423.3" cy="858.7" r="3.15"/><circle cx="423.9" cy="831.7" r="3.15"/><circle cx="424.5" cy="892.9" r="3.15"/><circle cx="425.2" cy="894.4" r="3.15"/><circle cx="426.0" cy="894.2" r="3.15"/><circle cx="426.7" cy="877.4" r="3.15"/><circle cx="427.6" cy="888.6" r="3.15"/><circle cx="428.7" cy="893.6" r="3.15"/><circle cx="429.7" cy="845.4" r="3.15"/><circle cx="430.0" cy="841.6" r="3.15"/><circle cx="430.7" cy="915.0" r="3.15"/><circle cx="432.2" cy="920.9" r="3.15"/><circle cx="432.2" cy="837.6" r="3.15"/><circle cx="433.0" cy="858.5" r="3.15"/><circle cx="434.3" cy="901.5" r="3.15"/><circle cx="434.8" cy="826.7" r="3.15"/><circle cx="435.8" cy="899.2" r="3.15"/><circle cx="436.6" cy="849.7" r="3.15"/><circle cx="437.3" cy="914.3" r="3.15"/><circle cx="438.5" cy="913.3" r="3.15"/><circle cx="438.7" cy="922.5" r="3.15"/><circle cx="440.3" cy="878.5" r="3.15"/><circle cx="440.9" cy="865.7" r="3.15"/><circle cx="441.9" cy="887.2" r="3.15"/><circle cx="442.2" cy="852.4" r="3.15"/><circle cx="442.7" cy="884.8" r="3.15"/><circle cx="444.1" cy="862.8" r="3.15"/><circle cx="444.7" cy="825.0" r="3.15"/><circle cx="445.5" cy="845.9" r="3.15"/><circle cx="446.3" cy="912.3" r="3.15"/><circle cx="447.1" cy="899.2" r="3.15"/><circle cx="447.6" cy="891.3" r="3.15"/><circle cx="448.5" cy="873.2" r="3.15"/><circle cx="449.8" cy="841.1" r="3.15"/><circle cx="450.7" cy="886.9" r="3.15"/><circle cx="451.3" cy="826.6" r="3.15"/><circle cx="451.9" cy="823.7" r="3.15"/><circle cx="452.5" cy="822.6" r="3.15"/><circle cx="453.9" cy="815.6" r="3.15"/><circle cx="454.7" cy="843.8" r="3.15"/><circle cx="455.2" cy="842.9" r="3.15"/><circle cx="456.4" cy="857.5" r="3.15"/><circle cx="457.0" cy="819.9" r="3.15"/><circle cx="457.5" cy="882.9" r="3.15"/><circle cx="458.1" cy="824.4" r="3.15"/><circle cx="459.4" cy="845.8" r="3.15"/><circle cx="459.9" cy="898.4" r="3.15"/><circle cx="460.9" cy="823.0" r="3.15"/><circle cx="461.6" cy="872.1" r="3.15"/><circle cx="462.5" cy="825.8" r="3.15"/><circle cx="463.0" cy="823.2" r="3.15"/><circle cx="463.8" cy="841.0" r="3.15"/><circle cx="465.2" cy="865.6" r="3.15"/><circle cx="466.0" cy="886.1" r="3.15"/><circle cx="466.3" cy="877.3" r="3.15"/><circle cx="467.2" cy="837.5" r="3.15"/><circle cx="468.3" cy="843.3" r="3.15"/><circle cx="469.4" cy="830.3" r="3.15"/><circle cx="470.1" cy="808.0" r="3.15"/><circle cx="471.0" cy="833.0" r="3.15"/><circle cx="471.3" cy="859.0" r="3.15"/><circle cx="472.5" cy="827.3" r="3.15"/><circle cx="473.4" cy="831.9" r="3.15"/><circle cx="474.0" cy="886.6" r="3.15"/><circle cx="474.8" cy="893.9" r="3.15"/><circle cx="475.6" cy="894.9" r="3.15"/><circle cx="475.9" cy="806.6" r="3.15"/><circle cx="477.4" cy="879.4" r="3.15"/><circle cx="477.5" cy="820.9" r="3.15"/><circle cx="478.9" cy="895.5" r="3.15"/><circle cx="479.8" cy="816.6" r="3.15"/><circle cx="480.4" cy="880.9" r="3.15"/><circle cx="480.8" cy="904.8" r="3.15"/><circle cx="481.9" cy="828.3" r="3.15"/><circle cx="482.9" cy="884.8" r="3.15"/><circle cx="483.8" cy="902.9" r="3.15"/><circle cx="484.5" cy="889.6" r="3.15"/><circle cx="484.8" cy="887.1" r="3.15"/><circle cx="486.2" cy="883.1" r="3.15"/><circle cx="486.4" cy="852.3" r="3.15"/><circle cx="487.5" cy="840.8" r="3.15"/><circle cx="488.5" cy="824.4" r="3.15"/><circle cx="489.6" cy="866.9" r="3.15"/><circle cx="490.2" cy="892.3" r="3.15"/><circle cx="490.7" cy="894.7" r="3.15"/><circle cx="492.0" cy="865.2" r="3.15"/><circle cx="492.7" cy="800.8" r="3.15"/><circle cx="493.2" cy="879.9" r="3.15"/><circle cx="493.9" cy="845.8" r="3.15"/><circle cx="494.8" cy="895.1" r="3.15"/><circle cx="496.0" cy="826.3" r="3.15"/><circle cx="496.8" cy="800.9" r="3.15"/><circle cx="497.5" cy="802.9" r="3.15"/><circle cx="498.3" cy="849.8" r="3.15"/><circle cx="499.2" cy="790.1" r="3.15"/><circle cx="499.4" cy="883.2" r="3.15"/><circle cx="500.3" cy="845.0" r="3.15"/><circle cx="501.7" cy="835.3" r="3.15"/><circle cx="502.5" cy="853.6" r="3.15"/><circle cx="503.1" cy="866.2" r="3.15"/><circle cx="503.9" cy="860.4" r="3.15"/><circle cx="504.2" cy="843.4" r="3.15"/><circle cx="505.5" cy="780.7" r="3.15"/><circle cx="506.1" cy="773.4" r="3.15"/><circle cx="507.3" cy="863.6" r="3.15"/><circle cx="508.1" cy="765.6" r="3.15"/><circle cx="509.0" cy="789.8" r="3.15"/><circle cx="509.4" cy="806.0" r="3.15"/><circle cx="510.4" cy="793.8" r="3.15"/><circle cx="510.8" cy="761.6" r="3.15"/><circle cx="511.9" cy="861.8" r="3.15"/><circle cx="512.6" cy="858.0" r="3.15"/><circle cx="513.5" cy="852.3" r="3.15"/><circle cx="514.4" cy="819.7" r="3.15"/><circle cx="515.4" cy="757.6" r="3.15"/><circle cx="515.7" cy="752.5" r="3.15"/><circle cx="516.8" cy="809.7" r="3.15"/><circle cx="517.9" cy="854.3" r="3.15"/><circle cx="518.3" cy="766.1" r="3.15"/><circle cx="518.9" cy="774.7" r="3.15"/><circle cx="520.3" cy="785.0" r="3.15"/><circle cx="521.0" cy="800.8" r="3.15"/><circle cx="522.0" cy="727.6" r="3.15"/><circle cx="522.2" cy="742.3" r="3.15"/><circle cx="523.1" cy="822.7" r="3.15"/><circle cx="523.8" cy="746.1" r="3.15"/><circle cx="524.8" cy="761.7" r="3.15"/><circle cx="525.4" cy="795.5" r="3.15"/><circle cx="526.4" cy="762.9" r="3.15"/><circle cx="527.5" cy="767.7" r="3.15"/><circle cx="528.0" cy="738.0" r="3.15"/><circle cx="529.1" cy="748.0" r="3.15"/><circle cx="530.0" cy="767.3" r="3.15"/><circle cx="530.3" cy="799.0" r="3.15"/><circle cx="531.5" cy="756.9" r="3.15"/><circle cx="532.5" cy="751.8" r="3.15"/><circle cx="532.9" cy="776.9" r="3.15"/><circle cx="534.1" cy="806.0" r="3.15"/><circle cx="534.5" cy="778.3" r="3.15"/><circle cx="535.5" cy="777.9" r="3.15"/><circle cx="535.9" cy="784.1" r="3.15"/><circle cx="536.7" cy="791.9" r="3.15"/><circle cx="537.5" cy="796.1" r="3.15"/><circle cx="538.7" cy="794.7" r="3.15"/><circle cx="539.2" cy="793.0" r="3.15"/></g>
<path d="M854.60,481.60 L854.60,435.48 L862.87,435.48 L862.87,399.24 L871.13,399.24 L871.13,372.88 L879.40,372.88 L879.40,405.82 L887.67,405.82 L887.67,412.41 L895.93,412.41 L895.93,379.47 L904.20,379.47 L904.20,379.47 L912.47,379.47 L912.47,366.29 L920.73,366.29 L920.73,369.58 L929.00,369.58 L929.00,415.71 L937.27,415.71 L937.27,432.18 L945.53,432.18 L945.53,425.59 L953.80,425.59 L953.80,389.35 L962.07,389.35 L962.07,422.30 L970.33,422.30 L970.33,428.89 L978.60,428.89 L978.60,451.95 L986.87,451.95 L986.87,435.48 L995.13,435.48 L995.13,442.06 L1003.40,442.06 L1003.40,438.77 L1011.67,438.77 L1011.67,455.24 L1019.93,455.24 L1019.93,432.18 L1028.20,432.18 L1028.20,419.00 L1036.47,419.00 L1036.47,451.95 L1044.73,451.95 L1044.73,448.65 L1053.00,448.65 L1053.00,455.24 L1061.27,455.24 L1061.27,478.31 L1069.53,478.31 L1069.53,455.24 L1077.80,455.24 L1077.80,468.42 L1086.07,468.42 L1086.07,468.42 L1094.33,468.42 L1094.33,465.13 L1102.60,465.13 L1102.60,481.60" fill="none" stroke="#d6c7a1" stroke-width="2.7" stroke-linejoin="miter"/>
<path d="M735.40,481.60 L735.40,337.69 L748.84,337.69 L748.84,284.99 L762.27,284.99 L762.27,453.22 L775.71,453.22 L775.71,463.36 L789.15,463.36 L789.15,473.49 L802.59,473.49 L802.59,459.30 L816.02,459.30 L816.02,475.52 L829.46,475.52 L829.46,477.55 L842.90,477.55 L842.90,477.55 L856.33,477.55 L856.33,475.52 L869.77,475.52 L869.77,477.55 L883.21,477.55 L883.21,471.47 L896.64,471.47 L896.64,463.36 L910.08,463.36 L910.08,465.38 L923.52,465.38 L923.52,455.25 L936.95,455.25 L936.95,428.90 L950.39,428.90 L950.39,418.77 L963.83,418.77 L963.83,434.98 L977.27,434.98 L977.27,445.12 L990.70,445.12 L990.70,445.12 L1004.14,445.12 L1004.14,453.22 L1017.58,453.22 L1017.58,430.93 L1031.01,430.93 L1031.01,443.09 L1044.45,443.09 L1044.45,441.06 L1057.89,441.06 L1057.89,445.12 L1071.33,445.12 L1071.33,455.25 L1084.76,455.25 L1084.76,465.38 L1098.20,465.38 L1098.20,473.49 L1111.64,473.49 L1111.64,467.41 L1125.07,467.41 L1125.07,475.52 L1138.51,475.52 L1138.51,481.60" fill="none" stroke="#6c93ba" stroke-width="2.7" stroke-linejoin="miter"/>
<path d="M735.40,1094.20 L735.40,840.40 L747.90,840.40 L747.90,960.96 L760.40,960.96 L760.40,1075.16 L772.90,1075.16 L772.90,1081.51 L785.40,1081.51 L785.40,1092.09 L797.90,1092.09 L797.90,1094.20 L810.40,1094.20 L810.40,1083.62 L822.90,1083.62 L822.90,1087.86 L835.40,1087.86 L835.40,1087.86 L847.90,1087.86 L847.90,1087.86 L860.40,1087.86 L860.40,1079.39 L872.90,1079.39 L872.90,1081.51 L885.40,1081.51 L885.40,1092.09 L897.90,1092.09 L897.90,1070.93 L910.40,1070.93 L910.40,1070.93 L922.90,1070.93 L922.90,1047.67 L935.40,1047.67 L935.40,1049.79 L947.90,1049.79 L947.90,1054.02 L960.40,1054.02 L960.40,1049.79 L972.90,1049.79 L972.90,1056.13 L985.40,1056.13 L985.40,1060.36 L997.90,1060.36 L997.90,1030.75 L1010.40,1030.75 L1010.40,1032.87 L1022.90,1032.87 L1022.90,1047.67 L1035.40,1047.67 L1035.40,1068.82 L1047.90,1068.82 L1047.90,1077.28 L1060.40,1077.28 L1060.40,1066.70 L1072.90,1066.70 L1072.90,1079.39 L1085.40,1079.39 L1085.40,1083.62 L1097.90,1083.62 L1097.90,1083.62 L1110.40,1083.62 L1110.40,1094.20" fill="none" stroke="#a25771" stroke-width="2.7" stroke-linejoin="miter"/>
<path d="M749.90,1094.20 L749.90,916.72 L762.86,916.72 L762.86,784.12 L775.82,784.12 L775.82,1092.16 L788.78,1092.16 L788.78,1088.08 L801.74,1088.08 L801.74,1090.12 L814.70,1090.12 L814.70,1092.16 L827.66,1092.16 L827.66,1094.20 L840.62,1094.20 L840.62,1090.12 L853.58,1090.12 L853.58,1094.20 L866.54,1094.20 L866.54,1088.08 L879.50,1088.08 L879.50,1086.04 L892.46,1086.04 L892.46,1069.72 L905.42,1069.72 L905.42,1045.24 L918.38,1045.24 L918.38,1055.44 L931.34,1055.44 L931.34,1059.52 L944.30,1059.52 L944.30,1051.36 L957.26,1051.36 L957.26,1057.48 L970.22,1057.48 L970.22,1047.28 L983.18,1047.28 L983.18,1045.24 L996.14,1045.24 L996.14,1065.64 L1009.10,1065.64 L1009.10,1067.68 L1022.06,1067.68 L1022.06,1075.84 L1035.02,1075.84 L1035.02,1071.76 L1047.98,1071.76 L1047.98,1075.84 L1060.94,1075.84 L1060.94,1075.84 L1073.90,1075.84 L1073.90,1077.88 L1086.86,1077.88 L1086.86,1088.08 L1099.82,1088.08 L1099.82,1090.12 L1112.78,1090.12 L1112.78,1086.04 L1125.74,1086.04 L1125.74,1084.00 L1138.70,1084.00 L1138.70,1094.20" fill="none" stroke="#b4d6cc" stroke-width="2.7" stroke-linejoin="miter"/>
<rect x="116.5" y="59.4" width="443.60" height="422.10" fill="none" stroke="#262626" stroke-width="2.6"/>
<line x1="104.00" y1="481.50" x2="116.50" y2="481.50" stroke="#262626" stroke-width="2.6"/>
<text transform="translate(42.25,493.00) scale(1.0000,1.0000)" font-size="31.4" fill="#262626" style="font-kerning:none" >0.00</text>
<line x1="104.00" y1="375.98" x2="116.50" y2="375.98" stroke="#262626" stroke-width="2.6"/>
<text transform="translate(42.78,387.48) scale(1.0000,1.0000)" font-size="31.4" fill="#262626" style="font-kerning:none" >0.02</text>
<line x1="104.00" y1="270.45" x2="116.50" y2="270.45" stroke="#262626" stroke-width="2.6"/>
<text transform="translate(41.54,281.95) scale(1.0000,1.0000)" font-size="31.4" fill="#262626" style="font-kerning:none" >0.04</text>
<line x1="104.00" y1="164.92" x2="116.50" y2="164.92" stroke="#262626" stroke-width="2.6"/>
<text transform="translate(41.99,176.42) scale(1.0000,1.0000)" font-size="31.4" fill="#262626" style="font-kerning:none" >0.06</text>
<line x1="104.00" y1="59.40" x2="116.50" y2="59.40" stroke="#262626" stroke-width="2.6"/>
<text transform="translate(42.25,70.90) scale(1.0000,1.0000)" font-size="31.4" fill="#262626" style="font-kerning:none" >0.08</text>
<line x1="135.20" y1="481.50" x2="135.20" y2="494.00" stroke="#262626" stroke-width="2.6"/>
<text transform="translate(127.35,522.90) scale(1.0000,1.0000)" font-size="31.4" fill="#262626" style="font-kerning:none" >0</text>
<line x1="264.00" y1="481.50" x2="264.00" y2="494.00" stroke="#262626" stroke-width="2.6"/>
<text transform="translate(256.33,522.90) scale(1.0000,1.0000)" font-size="31.4" fill="#262626" style="font-kerning:none" >2</text>
<line x1="392.80" y1="481.50" x2="392.80" y2="494.00" stroke="#262626" stroke-width="2.6"/>
<text transform="translate(384.89,522.90) scale(1.0000,1.0000)" font-size="31.4" fill="#262626" style="font-kerning:none" >4</text>
<line x1="521.60" y1="481.50" x2="521.60" y2="494.00" stroke="#262626" stroke-width="2.6"/>
<text transform="translate(513.54,522.90) scale(1.0000,1.0000)" font-size="31.4" fill="#262626" style="font-kerning:none" >6</text>
<rect x="116.9" y="671.8" width="443.20" height="422.40" fill="none" stroke="#262626" stroke-width="2.6"/>
<line x1="104.40" y1="1094.20" x2="116.90" y2="1094.20" stroke="#262626" stroke-width="2.6"/>
<text transform="translate(42.25,1105.70) scale(1.0000,1.0000)" font-size="31.4" fill="#262626" style="font-kerning:none" >0.00</text>
<line x1="104.40" y1="988.60" x2="116.90" y2="988.60" stroke="#262626" stroke-width="2.6"/>
<text transform="translate(42.78,1000.10) scale(1.0000,1.0000)" font-size="31.4" fill="#262626" style="font-kerning:none" >0.02</text>
<line x1="104.40" y1="883.00" x2="116.90" y2="883.00" stroke="#262626" stroke-width="2.6"/>
<text transform="translate(41.54,894.50) scale(1.0000,1.0000)" font-size="31.4" fill="#262626" style="font-kerning:none" >0.04</text>
<line x1="104.40" y1="777.40" x2="116.90" y2="777.40" stroke="#262626" stroke-width="2.6"/>
<text transform="translate(41.99,788.90) scale(1.0000,1.0000)" font-size="31.4" fill="#262626" style="font-kerning:none" >0.06</text>
<line x1="104.40" y1="671.80" x2="116.90" y2="671.80" stroke="#262626" stroke-width="2.6"/>
<text transform="translate(42.25,683.30) scale(1.0000,1.0000)" font-size="31.4" fill="#262626" style="font-kerning:none" >0.08</text>
<line x1="135.20" y1="1094.20" x2="135.20" y2="1106.70" stroke="#262626" stroke-width="2.6"/>
<text transform="translate(127.35,1135.60) scale(1.0000,1.0000)" font-size="31.4" fill="#262626" style="font-kerning:none" >0</text>
<line x1="264.00" y1="1094.20" x2="264.00" y2="1106.70" stroke="#262626" stroke-width="2.6"/>
<text transform="translate(256.33,1135.60) scale(1.0000,1.0000)" font-size="31.4" fill="#262626" style="font-kerning:none" >2</text>
<line x1="392.80" y1="1094.20" x2="392.80" y2="1106.70" stroke="#262626" stroke-width="2.6"/>
<text transform="translate(384.89,1135.60) scale(1.0000,1.0000)" font-size="31.4" fill="#262626" style="font-kerning:none" >4</text>
<line x1="521.60" y1="1094.20" x2="521.60" y2="1106.70" stroke="#262626" stroke-width="2.6"/>
<text transform="translate(513.54,1135.60) scale(1.0000,1.0000)" font-size="31.4" fill="#262626" style="font-kerning:none" >6</text>
<rect x="715.2" y="59.4" width="443.20" height="422.20" fill="none" stroke="#262626" stroke-width="2.6"/>
<line x1="702.70" y1="481.60" x2="715.20" y2="481.60" stroke="#262626" stroke-width="2.6"/>
<text transform="translate(680.40,493.10) scale(1.0000,1.0000)" font-size="31.4" fill="#262626" style="font-kerning:none" >0</text>
<line x1="702.70" y1="376.05" x2="715.20" y2="376.05" stroke="#262626" stroke-width="2.6"/>
<text transform="translate(664.70,387.55) scale(1.0000,1.0000)" font-size="31.4" fill="#262626" style="font-kerning:none" >50</text>
<line x1="702.70" y1="270.50" x2="715.20" y2="270.50" stroke="#262626" stroke-width="2.6"/>
<text transform="translate(649.00,282.00) scale(1.0000,1.0000)" font-size="31.4" fill="#262626" style="font-kerning:none" >100</text>
<line x1="702.70" y1="164.95" x2="715.20" y2="164.95" stroke="#262626" stroke-width="2.6"/>
<text transform="translate(649.00,176.45) scale(1.0000,1.0000)" font-size="31.4" fill="#262626" style="font-kerning:none" >150</text>
<line x1="702.70" y1="59.40" x2="715.20" y2="59.40" stroke="#262626" stroke-width="2.6"/>
<text transform="translate(649.00,70.90) scale(1.0000,1.0000)" font-size="31.4" fill="#262626" style="font-kerning:none" >200</text>
<line x1="818.30" y1="481.60" x2="818.30" y2="494.10" stroke="#262626" stroke-width="2.6"/>
<text transform="translate(791.09,523.00) scale(1.0000,1.0000)" font-size="31.4" fill="#262626" style="font-kerning:none" >0.02</text>
<line x1="947.30" y1="481.60" x2="947.30" y2="494.10" stroke="#262626" stroke-width="2.6"/>
<text transform="translate(919.47,523.00) scale(1.0000,1.0000)" font-size="31.4" fill="#262626" style="font-kerning:none" >0.04</text>
<line x1="1076.30" y1="481.60" x2="1076.30" y2="494.10" stroke="#262626" stroke-width="2.6"/>
<text transform="translate(1048.69,523.00) scale(1.0000,1.0000)" font-size="31.4" fill="#262626" style="font-kerning:none" >0.06</text>
<rect x="715.2" y="671.8" width="443.20" height="422.40" fill="none" stroke="#262626" stroke-width="2.6"/>
<line x1="702.70" y1="1094.20" x2="715.20" y2="1094.20" stroke="#262626" stroke-width="2.6"/>
<text transform="translate(680.40,1105.70) scale(1.0000,1.0000)" font-size="31.4" fill="#262626" style="font-kerning:none" >0</text>
<line x1="702.70" y1="988.60" x2="715.20" y2="988.60" stroke="#262626" stroke-width="2.6"/>
<text transform="translate(664.70,1000.10) scale(1.0000,1.0000)" font-size="31.4" fill="#262626" style="font-kerning:none" >50</text>
<line x1="702.70" y1="883.00" x2="715.20" y2="883.00" stroke="#262626" stroke-width="2.6"/>
<text transform="translate(649.00,894.50) scale(1.0000,1.0000)" font-size="31.4" fill="#262626" style="font-kerning:none" >100</text>
<line x1="702.70" y1="777.40" x2="715.20" y2="777.40" stroke="#262626" stroke-width="2.6"/>
<text transform="translate(649.00,788.90) scale(1.0000,1.0000)" font-size="31.4" fill="#262626" style="font-kerning:none" >150</text>
<line x1="702.70" y1="671.80" x2="715.20" y2="671.80" stroke="#262626" stroke-width="2.6"/>
<text transform="translate(649.00,683.30) scale(1.0000,1.0000)" font-size="31.4" fill="#262626" style="font-kerning:none" >200</text>
<line x1="827.60" y1="1094.20" x2="827.60" y2="1106.70" stroke="#262626" stroke-width="2.6"/>
<text transform="translate(800.39,1135.60) scale(1.0000,1.0000)" font-size="31.4" fill="#262626" style="font-kerning:none" >0.02</text>
<line x1="952.80" y1="1094.20" x2="952.80" y2="1106.70" stroke="#262626" stroke-width="2.6"/>
<text transform="translate(924.97,1135.60) scale(1.0000,1.0000)" font-size="31.4" fill="#262626" style="font-kerning:none" >0.04</text>
<line x1="1078.00" y1="1094.20" x2="1078.00" y2="1106.70" stroke="#262626" stroke-width="2.6"/>
<text transform="translate(1050.39,1135.60) scale(1.0000,1.0000)" font-size="31.4" fill="#262626" style="font-kerning:none" >0.06</text>
<circle cx="28.55" cy="16.0" r="7.4" fill="#d6c7a1"/>
<circle cx="624.0" cy="16.0" r="7.4" fill="#6c93ba"/>
<circle cx="28.5" cy="628.5" r="7.4" fill="#a25771"/>
<circle cx="624.0" cy="628.5" r="7.4" fill="#b4d6cc"/>
<text transform="translate(74.73,24.70) scale(1.0356,1.0000)" font-size="31.4" fill="#262626" style="font-kerning:none" ><tspan font-style="italic">σ</tspan></text>
<line x1="103.10" y1="13.70" x2="123.00" y2="13.70" stroke="#262626" stroke-width="1.25"/>
<line x1="103.10" y1="19.40" x2="123.00" y2="19.40" stroke="#262626" stroke-width="1.25"/>
<text transform="translate(133.11,24.70) scale(0.9911,1.0000)" font-size="31.4" fill="#262626" style="font-kerning:none" >0.3</text>
<text transform="translate(180.63,24.70) scale(1.0285,1.0000)" font-size="31.4" fill="#262626" style="font-kerning:none" >dex,</text>
<text transform="translate(245.72,24.70) scale(1.0682,1.0000)" font-size="31.4" fill="#262626" style="font-kerning:none" ><tspan font-style="italic">δt</tspan></text>
<line x1="281.30" y1="13.70" x2="302.60" y2="13.70" stroke="#262626" stroke-width="1.25"/>
<line x1="281.30" y1="19.40" x2="302.60" y2="19.40" stroke="#262626" stroke-width="1.25"/>
<text transform="translate(310.62,24.70) scale(1.0026,1.0000)" font-size="31.4" fill="#262626" style="font-kerning:none" >20</text>
<text transform="translate(352.08,24.70) scale(1.0179,1.0000)" font-size="31.4" fill="#262626" style="font-kerning:none" >Myr,</text>
<text transform="translate(424.15,24.70) scale(1.1202,1.0000)" font-size="31.4" fill="#262626" style="font-kerning:none" ><tspan font-style="italic">α</tspan></text>
<line x1="454.00" y1="13.70" x2="476.90" y2="13.70" stroke="#262626" stroke-width="1.25"/>
<line x1="454.00" y1="19.40" x2="476.90" y2="19.40" stroke="#262626" stroke-width="1.25"/>
<line x1="487.40" y1="16.40" x2="506.30" y2="16.40" stroke="#262626" stroke-width="1.25"/>
<text transform="translate(508.62,24.70) scale(0.9842,1.0000)" font-size="31.4" fill="#262626" style="font-kerning:none" >0.65</text>
<text transform="translate(670.33,24.70) scale(1.0356,1.0000)" font-size="31.4" fill="#262626" style="font-kerning:none" ><tspan font-style="italic">σ</tspan></text>
<line x1="698.70" y1="13.70" x2="718.60" y2="13.70" stroke="#262626" stroke-width="1.25"/>
<line x1="698.70" y1="19.40" x2="718.60" y2="19.40" stroke="#262626" stroke-width="1.25"/>
<text transform="translate(728.72,24.70) scale(0.9903,1.0000)" font-size="31.4" fill="#262626" style="font-kerning:none" >0.8</text>
<text transform="translate(776.23,24.70) scale(1.0285,1.0000)" font-size="31.4" fill="#262626" style="font-kerning:none" >dex,</text>
<text transform="translate(841.32,24.70) scale(1.0682,1.0000)" font-size="31.4" fill="#262626" style="font-kerning:none" ><tspan font-style="italic">δt</tspan></text>
<line x1="876.90" y1="13.70" x2="898.20" y2="13.70" stroke="#262626" stroke-width="1.25"/>
<line x1="876.90" y1="19.40" x2="898.20" y2="19.40" stroke="#262626" stroke-width="1.25"/>
<text transform="translate(906.22,24.70) scale(1.0026,1.0000)" font-size="31.4" fill="#262626" style="font-kerning:none" >20</text>
<text transform="translate(947.68,24.70) scale(1.0179,1.0000)" font-size="31.4" fill="#262626" style="font-kerning:none" >Myr,</text>
<text transform="translate(1019.75,24.70) scale(1.1202,1.0000)" font-size="31.4" fill="#262626" style="font-kerning:none" ><tspan font-style="italic">α</tspan></text>
<line x1="1049.60" y1="13.70" x2="1072.50" y2="13.70" stroke="#262626" stroke-width="1.25"/>
<line x1="1049.60" y1="19.40" x2="1072.50" y2="19.40" stroke="#262626" stroke-width="1.25"/>
<line x1="1083.00" y1="16.40" x2="1101.90" y2="16.40" stroke="#262626" stroke-width="1.25"/>
<text transform="translate(1104.22,24.70) scale(0.9842,1.0000)" font-size="31.4" fill="#262626" style="font-kerning:none" >0.65</text>
<text transform="translate(74.73,637.20) scale(1.0356,1.0000)" font-size="31.4" fill="#262626" style="font-kerning:none" ><tspan font-style="italic">σ</tspan></text>
<line x1="103.10" y1="626.20" x2="123.00" y2="626.20" stroke="#262626" stroke-width="1.25"/>
<line x1="103.10" y1="631.90" x2="123.00" y2="631.90" stroke="#262626" stroke-width="1.25"/>
<text transform="translate(133.12,637.20) scale(0.9903,1.0000)" font-size="31.4" fill="#262626" style="font-kerning:none" >0.8</text>
<text transform="translate(180.63,637.20) scale(1.0285,1.0000)" font-size="31.4" fill="#262626" style="font-kerning:none" >dex,</text>
<text transform="translate(245.72,637.20) scale(1.0682,1.0000)" font-size="31.4" fill="#262626" style="font-kerning:none" ><tspan font-style="italic">δt</tspan></text>
<line x1="281.30" y1="626.20" x2="302.60" y2="626.20" stroke="#262626" stroke-width="1.25"/>
<line x1="281.30" y1="631.90" x2="302.60" y2="631.90" stroke="#262626" stroke-width="1.25"/>
<text transform="translate(310.62,637.20) scale(1.0026,1.0000)" font-size="31.4" fill="#262626" style="font-kerning:none" >20</text>
<text transform="translate(352.08,637.20) scale(1.0179,1.0000)" font-size="31.4" fill="#262626" style="font-kerning:none" >Myr,</text>
<text transform="translate(424.15,637.20) scale(1.1202,1.0000)" font-size="31.4" fill="#262626" style="font-kerning:none" ><tspan font-style="italic">α</tspan></text>
<line x1="454.00" y1="626.20" x2="476.90" y2="626.20" stroke="#262626" stroke-width="1.25"/>
<line x1="454.00" y1="631.90" x2="476.90" y2="631.90" stroke="#262626" stroke-width="1.25"/>
<line x1="487.40" y1="628.90" x2="506.30" y2="628.90" stroke="#262626" stroke-width="1.25"/>
<text transform="translate(508.62,637.20) scale(0.9837,1.0000)" font-size="31.4" fill="#262626" style="font-kerning:none" >0.40</text>
<text transform="translate(670.33,637.20) scale(1.0356,1.0000)" font-size="31.4" fill="#262626" style="font-kerning:none" ><tspan font-style="italic">σ</tspan></text>
<line x1="698.70" y1="626.20" x2="718.60" y2="626.20" stroke="#262626" stroke-width="1.25"/>
<line x1="698.70" y1="631.90" x2="718.60" y2="631.90" stroke="#262626" stroke-width="1.25"/>
<text transform="translate(728.72,637.20) scale(0.9903,1.0000)" font-size="31.4" fill="#262626" style="font-kerning:none" >0.8</text>
<text transform="translate(776.23,637.20) scale(1.0285,1.0000)" font-size="31.4" fill="#262626" style="font-kerning:none" >dex,</text>
<text transform="translate(841.32,637.20) scale(1.0682,1.0000)" font-size="31.4" fill="#262626" style="font-kerning:none" ><tspan font-style="italic">δt</tspan></text>
<line x1="876.90" y1="626.20" x2="898.20" y2="626.20" stroke="#262626" stroke-width="1.25"/>
<line x1="876.90" y1="631.90" x2="898.20" y2="631.90" stroke="#262626" stroke-width="1.25"/>
<text transform="translate(907.00,637.20) scale(0.9767,1.0000)" font-size="31.4" fill="#262626" style="font-kerning:none" >40</text>
<text transform="translate(947.68,637.20) scale(1.0179,1.0000)" font-size="31.4" fill="#262626" style="font-kerning:none" >Myr,</text>
<text transform="translate(1019.75,637.20) scale(1.1202,1.0000)" font-size="31.4" fill="#262626" style="font-kerning:none" ><tspan font-style="italic">α</tspan></text>
<line x1="1049.60" y1="626.20" x2="1072.50" y2="626.20" stroke="#262626" stroke-width="1.25"/>
<line x1="1049.60" y1="631.90" x2="1072.50" y2="631.90" stroke="#262626" stroke-width="1.25"/>
<line x1="1083.00" y1="628.90" x2="1101.90" y2="628.90" stroke="#262626" stroke-width="1.25"/>
<text transform="translate(1104.22,637.20) scale(0.9842,1.0000)" font-size="31.4" fill="#262626" style="font-kerning:none" >0.65</text>
<text transform="translate(27.30,326.28) rotate(-90) scale(0.9656,1.0000)" font-size="35.4" fill="#262626" style="font-kerning:none" >H</text>
<text transform="translate(27.30,301.69) rotate(-90) scale(1.0378,1.0000)" font-size="35.4" fill="#262626" style="font-kerning:none" ><tspan font-style="italic">α</tspan></text>
<line x1="34.6" y1="278.30" x2="2.4" y2="266.30" stroke="#262626" stroke-width="1.5" stroke-linecap="round"/>
<text transform="translate(27.30,263.09) rotate(-90) scale(0.9322,1.0000)" font-size="35.4" fill="#262626" style="font-kerning:none" >UV</text>
<text transform="translate(635.30,324.91) rotate(-90) scale(0.9856,1.0000)" font-size="35.4" fill="#262626" style="font-kerning:none" >Density</text>
<text transform="translate(881.65,561.90) scale(0.9359,1.0000)" font-size="35.4" fill="#262626" style="font-kerning:none" >H</text>
<text transform="translate(905.91,561.90) scale(1.0378,1.0000)" font-size="35.4" fill="#262626" style="font-kerning:none" ><tspan font-style="italic">α</tspan></text>
<line x1="929.2" y1="569.70" x2="941.0" y2="537.50" stroke="#262626" stroke-width="1.5" stroke-linecap="round"/>
<text transform="translate(943.90,561.90) scale(0.9402,1.0000)" font-size="35.4" fill="#262626" style="font-kerning:none" >UV</text>
<g transform="translate(338.8,553.00) skewX(-14)"><path fill-rule="evenodd" fill="#262626" d="M-8.7,0 A8.7,7.95 0 1,0 8.7,0 A8.7,7.95 0 1,0 -8.7,0 Z "/><path fill="#fff" transform="translate(0.2,0) rotate(-12)" d="M-6.55,0 A6.55,6.85 0 1,0 6.55,0 A6.55,6.85 0 1,0 -6.55,0 Z"/></g>
<line x1="342.6" y1="537.20" x2="335.5" y2="566.70" stroke="#262626" stroke-width="1.3" stroke-linecap="round"/>
<text transform="translate(27.30,938.68) rotate(-90) scale(0.9656,1.0000)" font-size="35.4" fill="#262626" style="font-kerning:none" >H</text>
<text transform="translate(27.30,914.09) rotate(-90) scale(1.0378,1.0000)" font-size="35.4" fill="#262626" style="font-kerning:none" ><tspan font-style="italic">α</tspan></text>
<line x1="34.6" y1="890.70" x2="2.4" y2="878.70" stroke="#262626" stroke-width="1.5" stroke-linecap="round"/>
<text transform="translate(27.30,875.49) rotate(-90) scale(0.9322,1.0000)" font-size="35.4" fill="#262626" style="font-kerning:none" >UV</text>
<text transform="translate(635.30,937.31) rotate(-90) scale(0.9856,1.0000)" font-size="35.4" fill="#262626" style="font-kerning:none" >Density</text>
<text transform="translate(881.65,1174.30) scale(0.9359,1.0000)" font-size="35.4" fill="#262626" style="font-kerning:none" >H</text>
<text transform="translate(905.91,1174.30) scale(1.0378,1.0000)" font-size="35.4" fill="#262626" style="font-kerning:none" ><tspan font-style="italic">α</tspan></text>
<line x1="929.2" y1="1182.10" x2="941.0" y2="1149.90" stroke="#262626" stroke-width="1.5" stroke-linecap="round"/>
<text transform="translate(943.90,1174.30) scale(0.9402,1.0000)" font-size="35.4" fill="#262626" style="font-kerning:none" >UV</text>
<g transform="translate(338.8,1165.40) skewX(-14)"><path fill-rule="evenodd" fill="#262626" d="M-8.7,0 A8.7,7.95 0 1,0 8.7,0 A8.7,7.95 0 1,0 -8.7,0 Z "/><path fill="#fff" transform="translate(0.2,0) rotate(-12)" d="M-6.55,0 A6.55,6.85 0 1,0 6.55,0 A6.55,6.85 0 1,0 -6.55,0 Z"/></g>
<line x1="342.6" y1="1149.60" x2="335.5" y2="1179.10" stroke="#262626" stroke-width="1.3" stroke-linecap="round"/>
<text transform="translate(910.94,99.60) scale(1.0062,1.0000)" font-size="35.4" fill="#c8b283" style="font-kerning:none" >84th</text>
<text transform="translate(974.89,99.60) scale(0.8482,1.0000)" font-size="35.4" fill="#c8b283" style="font-kerning:none" >-</text>
<text transform="translate(985.13,99.60) scale(1.0193,1.0000)" font-size="35.4" fill="#c8b283" style="font-kerning:none" >16th</text>
<line x1="1051.00" y1="88.20" x2="1072.90" y2="88.20" stroke="#c8b283" stroke-width="1.4"/>
<line x1="1051.00" y1="94.40" x2="1072.90" y2="94.40" stroke="#c8b283" stroke-width="1.4"/>
<text transform="translate(1074.45,99.60) scale(0.9294,1.0000)" font-size="35.4" fill="#c8b283" style="font-kerning:none" >0.021</text>
<text transform="translate(910.94,141.80) scale(1.0062,1.0000)" font-size="35.4" fill="#6c93ba" style="font-kerning:none" >84th</text>
<text transform="translate(974.89,141.80) scale(0.8482,1.0000)" font-size="35.4" fill="#6c93ba" style="font-kerning:none" >-</text>
<text transform="translate(985.13,141.80) scale(1.0193,1.0000)" font-size="35.4" fill="#6c93ba" style="font-kerning:none" >16th</text>
<line x1="1051.00" y1="130.40" x2="1072.90" y2="130.40" stroke="#6c93ba" stroke-width="1.4"/>
<line x1="1051.00" y1="136.60" x2="1072.90" y2="136.60" stroke="#6c93ba" stroke-width="1.4"/>
<text transform="translate(1074.43,141.80) scale(0.9426,1.0000)" font-size="35.4" fill="#6c93ba" style="font-kerning:none" >0.045</text>
<text transform="translate(910.94,712.00) scale(1.0062,1.0000)" font-size="35.4" fill="#a25771" style="font-kerning:none" >84th</text>
<text transform="translate(974.89,712.00) scale(0.8482,1.0000)" font-size="35.4" fill="#a25771" style="font-kerning:none" >-</text>
<text transform="translate(985.13,712.00) scale(1.0193,1.0000)" font-size="35.4" fill="#a25771" style="font-kerning:none" >16th</text>
<line x1="1051.00" y1="700.60" x2="1072.90" y2="700.60" stroke="#a25771" stroke-width="1.4"/>
<line x1="1051.00" y1="706.80" x2="1072.90" y2="706.80" stroke="#a25771" stroke-width="1.4"/>
<text transform="translate(1074.44,712.00) scale(0.9325,1.0000)" font-size="35.4" fill="#a25771" style="font-kerning:none" >0.044</text>
<text transform="translate(910.94,754.20) scale(1.0062,1.0000)" font-size="35.4" fill="#8ac3b2" style="font-kerning:none" >84th</text>
<text transform="translate(974.89,754.20) scale(0.8482,1.0000)" font-size="35.4" fill="#8ac3b2" style="font-kerning:none" >-</text>
<text transform="translate(985.13,754.20) scale(1.0193,1.0000)" font-size="35.4" fill="#8ac3b2" style="font-kerning:none" >16th</text>
<line x1="1051.00" y1="742.80" x2="1072.90" y2="742.80" stroke="#8ac3b2" stroke-width="1.4"/>
<line x1="1051.00" y1="749.00" x2="1072.90" y2="749.00" stroke="#8ac3b2" stroke-width="1.4"/>
<text transform="translate(1074.43,754.20) scale(0.9421,1.0000)" font-size="35.4" fill="#8ac3b2" style="font-kerning:none" >0.038</text>
</svg></body></html>
